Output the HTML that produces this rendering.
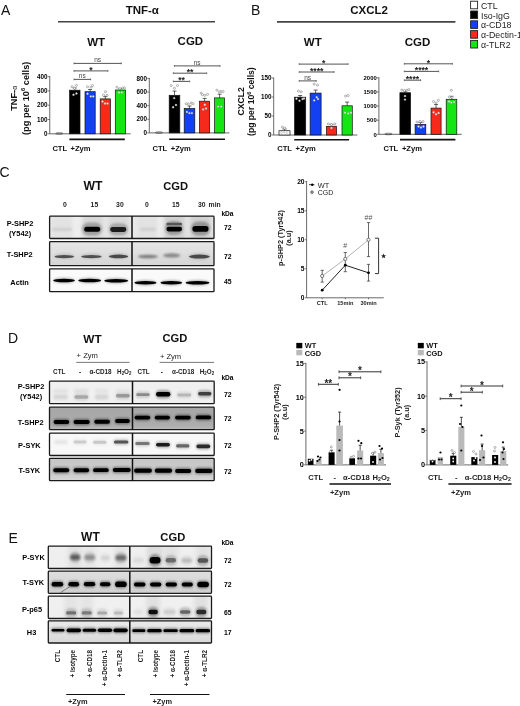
<!DOCTYPE html><html><head><meta charset="utf-8"><style>html,body{margin:0;padding:0;background:#fff;width:520px;height:706px;overflow:hidden}svg{display:block;filter:blur(0.25px);font-family:"Liberation Sans", sans-serif}</style></head><body>
<svg width="520" height="706" viewBox="0 0 520 706">
<defs><filter id="b1" x="-30%" y="-100%" width="160%" height="300%"><feGaussianBlur stdDeviation="0.75"/></filter><filter id="b2" x="-30%" y="-100%" width="160%" height="300%"><feGaussianBlur stdDeviation="1.3"/></filter><filter id="b3" x="-30%" y="-100%" width="160%" height="300%"><feGaussianBlur stdDeviation="0.6"/></filter><filter id="b4" x="-50%" y="-10%" width="200%" height="120%"><feGaussianBlur stdDeviation="2.2"/></filter></defs>
<rect width="520" height="706" fill="#fff"/>
<text x="1.00" y="15.20" font-size="14" font-weight="normal" text-anchor="start" fill="#111">A</text>
<text x="142.30" y="13.80" font-size="11.5" font-weight="bold" text-anchor="middle" fill="#111">TNF-α</text>
<line x1="58.00" y1="21.80" x2="215.00" y2="21.80" stroke="#444" stroke-width="1.6"/>
<text x="96.20" y="45.80" font-size="11.5" font-weight="bold" text-anchor="middle" fill="#111">WT</text>
<text x="190.40" y="45.40" font-size="11.5" font-weight="bold" text-anchor="middle" fill="#111">CGD</text>
<text transform="translate(16.6,98.3) rotate(-90)" font-size="9.2" font-weight="bold" text-anchor="middle" fill="#111">TNF-<tspan font-size="7" font-weight="normal">α</tspan></text>
<text transform="translate(28.6,98.3) rotate(-90)" font-size="9.2" font-weight="bold" text-anchor="middle" fill="#111">(pg per 10<tspan font-size="6" dy="-3.5">6</tspan><tspan dy="3.5"> cells)</tspan></text>
<line x1="49.75" y1="76.10" x2="49.75" y2="133.80" stroke="#444" stroke-width="0.8"/>
<line x1="47.75" y1="133.80" x2="49.75" y2="133.80" stroke="#444" stroke-width="0.7"/>
<text x="47.55" y="136.00" font-size="6.3" font-weight="bold" text-anchor="end" fill="#000">0</text>
<line x1="47.75" y1="119.50" x2="49.75" y2="119.50" stroke="#444" stroke-width="0.7"/>
<text x="47.55" y="121.70" font-size="6.3" font-weight="bold" text-anchor="end" fill="#000">100</text>
<line x1="47.75" y1="105.20" x2="49.75" y2="105.20" stroke="#444" stroke-width="0.7"/>
<text x="47.55" y="107.40" font-size="6.3" font-weight="bold" text-anchor="end" fill="#000">200</text>
<line x1="47.75" y1="90.90" x2="49.75" y2="90.90" stroke="#444" stroke-width="0.7"/>
<text x="47.55" y="93.10" font-size="6.3" font-weight="bold" text-anchor="end" fill="#000">300</text>
<line x1="47.75" y1="76.60" x2="49.75" y2="76.60" stroke="#444" stroke-width="0.7"/>
<text x="47.55" y="78.80" font-size="6.3" font-weight="bold" text-anchor="end" fill="#000">400</text>
<line x1="49.75" y1="133.80" x2="130.60" y2="133.80" stroke="#555" stroke-width="0.9"/>
<ellipse cx="59.3" cy="133.5" rx="3.6" ry="0.8" fill="none" stroke="#333" stroke-width="0.6"/>
<rect x="69.60" y="90.20" width="10.40" height="43.60" fill="#000" stroke="#111" stroke-width="0.7"/>
<line x1="74.80" y1="88.00" x2="74.80" y2="90.20" stroke="#222" stroke-width="0.7"/>
<line x1="72.80" y1="88.00" x2="76.80" y2="88.00" stroke="#222" stroke-width="0.7"/>
<circle cx="72.10" cy="86.70" r="1.05" fill="#fff" stroke="#777" stroke-width="0.55"/>
<circle cx="76.40" cy="85.40" r="1.05" fill="#fff" stroke="#777" stroke-width="0.55"/>
<circle cx="74.50" cy="88.30" r="1.05" fill="#fff" stroke="#777" stroke-width="0.55"/>
<circle cx="73.50" cy="94.80" r="0.95" fill="#fff" stroke="#999" stroke-width="0.4"/>
<circle cx="76.40" cy="93.50" r="0.95" fill="#fff" stroke="#999" stroke-width="0.4"/>
<rect x="85.00" y="91.70" width="10.20" height="42.10" fill="#1240f2" stroke="#111" stroke-width="0.7"/>
<line x1="90.10" y1="89.50" x2="90.10" y2="91.70" stroke="#222" stroke-width="0.7"/>
<line x1="88.10" y1="89.50" x2="92.10" y2="89.50" stroke="#222" stroke-width="0.7"/>
<circle cx="87.50" cy="86.70" r="1.05" fill="#fff" stroke="#777" stroke-width="0.55"/>
<circle cx="91.00" cy="87.20" r="1.05" fill="#fff" stroke="#777" stroke-width="0.55"/>
<circle cx="92.50" cy="85.50" r="1.05" fill="#fff" stroke="#777" stroke-width="0.55"/>
<circle cx="87.50" cy="93.70" r="0.95" fill="#fff" stroke="#999" stroke-width="0.4"/>
<circle cx="90.80" cy="96.40" r="0.95" fill="#fff" stroke="#999" stroke-width="0.4"/>
<circle cx="93.30" cy="96.40" r="0.95" fill="#fff" stroke="#999" stroke-width="0.4"/>
<rect x="100.20" y="98.90" width="10.20" height="34.90" fill="#f52a1c" stroke="#111" stroke-width="0.7"/>
<line x1="105.30" y1="96.60" x2="105.30" y2="98.90" stroke="#222" stroke-width="0.7"/>
<line x1="103.30" y1="96.60" x2="107.30" y2="96.60" stroke="#222" stroke-width="0.7"/>
<circle cx="105.50" cy="91.70" r="1.05" fill="#fff" stroke="#777" stroke-width="0.55"/>
<circle cx="103.50" cy="95.30" r="1.05" fill="#fff" stroke="#777" stroke-width="0.55"/>
<circle cx="107.00" cy="95.30" r="1.05" fill="#fff" stroke="#777" stroke-width="0.55"/>
<circle cx="102.50" cy="101.50" r="0.95" fill="#fff" stroke="#999" stroke-width="0.4"/>
<circle cx="105.00" cy="103.50" r="0.95" fill="#fff" stroke="#999" stroke-width="0.4"/>
<circle cx="107.50" cy="103.50" r="0.95" fill="#fff" stroke="#999" stroke-width="0.4"/>
<rect x="115.30" y="90.00" width="10.30" height="43.80" fill="#14e614" stroke="#111" stroke-width="0.7"/>
<line x1="120.45" y1="88.60" x2="120.45" y2="90.00" stroke="#222" stroke-width="0.7"/>
<line x1="118.45" y1="88.60" x2="122.45" y2="88.60" stroke="#222" stroke-width="0.7"/>
<circle cx="117.00" cy="87.20" r="1.05" fill="#fff" stroke="#777" stroke-width="0.55"/>
<circle cx="120.00" cy="88.60" r="1.05" fill="#fff" stroke="#777" stroke-width="0.55"/>
<circle cx="122.70" cy="88.00" r="1.05" fill="#fff" stroke="#777" stroke-width="0.55"/>
<circle cx="124.50" cy="88.00" r="1.05" fill="#fff" stroke="#777" stroke-width="0.55"/>
<circle cx="119.00" cy="92.50" r="0.95" fill="#fff" stroke="#999" stroke-width="0.4"/>
<circle cx="121.80" cy="92.50" r="0.95" fill="#fff" stroke="#999" stroke-width="0.4"/>
<line x1="69.40" y1="139.40" x2="124.80" y2="139.40" stroke="#111" stroke-width="1.6"/>
<text x="52.40" y="150.60" font-size="7.6" font-weight="bold" text-anchor="start" fill="#111">CTL</text>
<text x="70.50" y="150.60" font-size="7.6" font-weight="bold" text-anchor="start" fill="#111">+Zym</text>
<line x1="74.00" y1="63.40" x2="121.30" y2="63.40" stroke="#555" stroke-width="1.0"/>
<line x1="74.00" y1="62.50" x2="74.00" y2="64.30" stroke="#555" stroke-width="0.8"/>
<line x1="121.30" y1="62.50" x2="121.30" y2="64.30" stroke="#555" stroke-width="0.8"/>
<text x="97.65" y="62.40" font-size="6.5" font-weight="normal" text-anchor="middle" fill="#444">ns</text>
<line x1="74.00" y1="70.90" x2="107.90" y2="70.90" stroke="#555" stroke-width="1.0"/>
<line x1="74.00" y1="70.00" x2="74.00" y2="71.80" stroke="#555" stroke-width="0.8"/>
<line x1="107.90" y1="70.00" x2="107.90" y2="71.80" stroke="#555" stroke-width="0.8"/>
<text x="90.95" y="72.70" font-size="8.6" font-weight="bold" text-anchor="middle" fill="#222">*</text>
<line x1="74.00" y1="79.40" x2="90.60" y2="79.40" stroke="#555" stroke-width="1.0"/>
<line x1="74.00" y1="78.50" x2="74.00" y2="80.30" stroke="#555" stroke-width="0.8"/>
<line x1="90.60" y1="78.50" x2="90.60" y2="80.30" stroke="#555" stroke-width="0.8"/>
<text x="82.30" y="78.40" font-size="6.5" font-weight="normal" text-anchor="middle" fill="#444">ns</text>
<line x1="149.30" y1="77.90" x2="149.30" y2="132.90" stroke="#444" stroke-width="0.8"/>
<line x1="147.30" y1="132.90" x2="149.30" y2="132.90" stroke="#444" stroke-width="0.7"/>
<text x="147.10" y="135.10" font-size="6.3" font-weight="bold" text-anchor="end" fill="#000">0</text>
<line x1="147.30" y1="119.28" x2="149.30" y2="119.28" stroke="#444" stroke-width="0.7"/>
<text x="147.10" y="121.48" font-size="6.3" font-weight="bold" text-anchor="end" fill="#000">200</text>
<line x1="147.30" y1="105.65" x2="149.30" y2="105.65" stroke="#444" stroke-width="0.7"/>
<text x="147.10" y="107.85" font-size="6.3" font-weight="bold" text-anchor="end" fill="#000">400</text>
<line x1="147.30" y1="92.03" x2="149.30" y2="92.03" stroke="#444" stroke-width="0.7"/>
<text x="147.10" y="94.23" font-size="6.3" font-weight="bold" text-anchor="end" fill="#000">600</text>
<line x1="147.30" y1="78.40" x2="149.30" y2="78.40" stroke="#444" stroke-width="0.7"/>
<text x="147.10" y="80.60" font-size="6.3" font-weight="bold" text-anchor="end" fill="#000">800</text>
<line x1="149.30" y1="132.90" x2="229.40" y2="132.90" stroke="#555" stroke-width="0.9"/>
<ellipse cx="159" cy="132.6" rx="3.6" ry="0.8" fill="none" stroke="#333" stroke-width="0.6"/>
<rect x="169.20" y="95.30" width="10.60" height="37.60" fill="#000" stroke="#111" stroke-width="0.7"/>
<line x1="174.50" y1="91.10" x2="174.50" y2="95.30" stroke="#222" stroke-width="0.7"/>
<line x1="172.50" y1="91.10" x2="176.50" y2="91.10" stroke="#222" stroke-width="0.7"/>
<circle cx="171.20" cy="85.60" r="1.05" fill="#fff" stroke="#777" stroke-width="0.55"/>
<circle cx="174.40" cy="88.30" r="1.05" fill="#fff" stroke="#777" stroke-width="0.55"/>
<circle cx="177.50" cy="85.60" r="1.05" fill="#fff" stroke="#777" stroke-width="0.55"/>
<circle cx="174.20" cy="98.10" r="0.95" fill="#fff" stroke="#999" stroke-width="0.4"/>
<circle cx="176.00" cy="105.00" r="0.95" fill="#fff" stroke="#999" stroke-width="0.4"/>
<circle cx="173.10" cy="107.20" r="0.95" fill="#fff" stroke="#999" stroke-width="0.4"/>
<rect x="184.20" y="108.50" width="10.60" height="24.40" fill="#1240f2" stroke="#111" stroke-width="0.7"/>
<line x1="189.50" y1="106.00" x2="189.50" y2="108.50" stroke="#222" stroke-width="0.7"/>
<line x1="187.50" y1="106.00" x2="191.50" y2="106.00" stroke="#222" stroke-width="0.7"/>
<circle cx="186.20" cy="103.70" r="1.05" fill="#fff" stroke="#777" stroke-width="0.55"/>
<circle cx="188.30" cy="104.10" r="1.05" fill="#fff" stroke="#777" stroke-width="0.55"/>
<circle cx="191.20" cy="103.10" r="1.05" fill="#fff" stroke="#777" stroke-width="0.55"/>
<circle cx="193.10" cy="103.70" r="1.05" fill="#fff" stroke="#777" stroke-width="0.55"/>
<circle cx="186.90" cy="111.90" r="0.95" fill="#fff" stroke="#999" stroke-width="0.4"/>
<circle cx="189.40" cy="113.10" r="0.95" fill="#fff" stroke="#999" stroke-width="0.4"/>
<circle cx="191.90" cy="113.10" r="0.95" fill="#fff" stroke="#999" stroke-width="0.4"/>
<rect x="199.60" y="101.20" width="10.00" height="31.70" fill="#f52a1c" stroke="#111" stroke-width="0.7"/>
<line x1="204.60" y1="98.40" x2="204.60" y2="101.20" stroke="#222" stroke-width="0.7"/>
<line x1="202.60" y1="98.40" x2="206.60" y2="98.40" stroke="#222" stroke-width="0.7"/>
<circle cx="201.20" cy="93.10" r="1.05" fill="#fff" stroke="#777" stroke-width="0.55"/>
<circle cx="202.50" cy="94.80" r="1.05" fill="#fff" stroke="#777" stroke-width="0.55"/>
<circle cx="204.80" cy="95.30" r="1.05" fill="#fff" stroke="#777" stroke-width="0.55"/>
<circle cx="207.50" cy="94.40" r="1.05" fill="#fff" stroke="#777" stroke-width="0.55"/>
<circle cx="204.80" cy="104.80" r="0.95" fill="#fff" stroke="#999" stroke-width="0.4"/>
<circle cx="203.10" cy="109.40" r="0.95" fill="#fff" stroke="#999" stroke-width="0.4"/>
<circle cx="206.00" cy="108.50" r="0.95" fill="#fff" stroke="#999" stroke-width="0.4"/>
<rect x="214.60" y="97.90" width="10.00" height="35.00" fill="#14e614" stroke="#111" stroke-width="0.7"/>
<line x1="219.60" y1="94.20" x2="219.60" y2="97.90" stroke="#222" stroke-width="0.7"/>
<line x1="217.60" y1="94.20" x2="221.60" y2="94.20" stroke="#222" stroke-width="0.7"/>
<circle cx="216.90" cy="90.20" r="1.05" fill="#fff" stroke="#777" stroke-width="0.55"/>
<circle cx="219.40" cy="91.90" r="1.05" fill="#fff" stroke="#777" stroke-width="0.55"/>
<circle cx="221.20" cy="91.50" r="1.05" fill="#fff" stroke="#777" stroke-width="0.55"/>
<circle cx="223.10" cy="91.50" r="1.05" fill="#fff" stroke="#777" stroke-width="0.55"/>
<circle cx="218.10" cy="106.60" r="0.95" fill="#fff" stroke="#999" stroke-width="0.4"/>
<circle cx="221.20" cy="106.60" r="0.95" fill="#fff" stroke="#999" stroke-width="0.4"/>
<line x1="169.20" y1="139.20" x2="225.00" y2="139.20" stroke="#111" stroke-width="1.6"/>
<text x="152.50" y="151.20" font-size="7.6" font-weight="bold" text-anchor="start" fill="#111">CTL</text>
<text x="170.80" y="151.20" font-size="7.6" font-weight="bold" text-anchor="start" fill="#111">+Zym</text>
<line x1="174.40" y1="65.90" x2="220.00" y2="65.90" stroke="#555" stroke-width="1.0"/>
<line x1="174.40" y1="65.00" x2="174.40" y2="66.80" stroke="#555" stroke-width="0.8"/>
<line x1="220.00" y1="65.00" x2="220.00" y2="66.80" stroke="#555" stroke-width="0.8"/>
<text x="197.20" y="64.90" font-size="6.5" font-weight="normal" text-anchor="middle" fill="#444">ns</text>
<line x1="173.30" y1="73.20" x2="206.70" y2="73.20" stroke="#555" stroke-width="1.0"/>
<line x1="173.30" y1="72.30" x2="173.30" y2="74.10" stroke="#555" stroke-width="0.8"/>
<line x1="206.70" y1="72.30" x2="206.70" y2="74.10" stroke="#555" stroke-width="0.8"/>
<text x="190.00" y="75.00" font-size="8.6" font-weight="bold" text-anchor="middle" fill="#222">**</text>
<line x1="173.30" y1="81.40" x2="189.70" y2="81.40" stroke="#555" stroke-width="1.0"/>
<line x1="173.30" y1="80.50" x2="173.30" y2="82.30" stroke="#555" stroke-width="0.8"/>
<line x1="189.70" y1="80.50" x2="189.70" y2="82.30" stroke="#555" stroke-width="0.8"/>
<text x="181.50" y="83.20" font-size="8.6" font-weight="bold" text-anchor="middle" fill="#222">**</text>
<text x="251.00" y="15.40" font-size="14" font-weight="normal" text-anchor="start" fill="#111">B</text>
<text x="369.10" y="14.00" font-size="11.5" font-weight="bold" text-anchor="middle" fill="#111">CXCL2</text>
<line x1="277.00" y1="21.90" x2="455.40" y2="21.90" stroke="#444" stroke-width="1.6"/>
<text x="312.80" y="45.70" font-size="11.5" font-weight="bold" text-anchor="middle" fill="#111">WT</text>
<text x="417.60" y="45.70" font-size="11.5" font-weight="bold" text-anchor="middle" fill="#111">CGD</text>
<text transform="translate(243.6,101.4) rotate(-90)" font-size="8.6" font-weight="bold" text-anchor="middle" fill="#111">CXCL2</text>
<text transform="translate(254.4,101.6) rotate(-90)" font-size="8.6" font-weight="bold" text-anchor="middle" fill="#111">(pg per 10<tspan font-size="5.6" dy="-3.3">6</tspan><tspan dy="3.3"> cells)</tspan></text>
<line x1="273.70" y1="77.50" x2="273.70" y2="135.00" stroke="#444" stroke-width="0.8"/>
<line x1="271.70" y1="135.00" x2="273.70" y2="135.00" stroke="#444" stroke-width="0.7"/>
<text x="271.50" y="137.20" font-size="6.3" font-weight="bold" text-anchor="end" fill="#000">0</text>
<line x1="271.70" y1="116.00" x2="273.70" y2="116.00" stroke="#444" stroke-width="0.7"/>
<text x="271.50" y="118.20" font-size="6.3" font-weight="bold" text-anchor="end" fill="#000">50</text>
<line x1="271.70" y1="97.00" x2="273.70" y2="97.00" stroke="#444" stroke-width="0.7"/>
<text x="271.50" y="99.20" font-size="6.3" font-weight="bold" text-anchor="end" fill="#000">100</text>
<line x1="271.70" y1="78.00" x2="273.70" y2="78.00" stroke="#444" stroke-width="0.7"/>
<text x="271.50" y="80.20" font-size="6.3" font-weight="bold" text-anchor="end" fill="#000">150</text>
<line x1="273.70" y1="135.00" x2="357.40" y2="135.00" stroke="#555" stroke-width="0.9"/>
<rect x="279.00" y="130.70" width="11.00" height="4.30" fill="#fff" stroke="#111" stroke-width="0.7"/>
<line x1="284.50" y1="129.00" x2="284.50" y2="130.70" stroke="#222" stroke-width="0.7"/>
<line x1="282.50" y1="129.00" x2="286.50" y2="129.00" stroke="#222" stroke-width="0.7"/>
<circle cx="282.40" cy="127.10" r="1.05" fill="#fff" stroke="#777" stroke-width="0.55"/>
<circle cx="284.80" cy="128.20" r="1.05" fill="#fff" stroke="#777" stroke-width="0.55"/>
<circle cx="281.50" cy="132.50" r="0.95" fill="#fff" stroke="#999" stroke-width="0.4"/>
<circle cx="284.00" cy="132.00" r="0.95" fill="#fff" stroke="#999" stroke-width="0.4"/>
<circle cx="287.00" cy="132.50" r="0.95" fill="#fff" stroke="#999" stroke-width="0.4"/>
<rect x="294.60" y="97.20" width="11.10" height="37.80" fill="#000" stroke="#111" stroke-width="0.7"/>
<line x1="300.15" y1="95.50" x2="300.15" y2="97.20" stroke="#222" stroke-width="0.7"/>
<line x1="298.15" y1="95.50" x2="302.15" y2="95.50" stroke="#222" stroke-width="0.7"/>
<circle cx="298.40" cy="91.10" r="1.05" fill="#fff" stroke="#777" stroke-width="0.55"/>
<circle cx="301.20" cy="91.80" r="1.05" fill="#fff" stroke="#777" stroke-width="0.55"/>
<circle cx="296.50" cy="98.70" r="0.95" fill="#fff" stroke="#999" stroke-width="0.4"/>
<circle cx="299.50" cy="100.80" r="0.95" fill="#fff" stroke="#999" stroke-width="0.4"/>
<circle cx="302.50" cy="99.00" r="0.95" fill="#fff" stroke="#999" stroke-width="0.4"/>
<circle cx="304.00" cy="98.50" r="0.95" fill="#fff" stroke="#999" stroke-width="0.4"/>
<rect x="310.10" y="93.10" width="11.00" height="41.90" fill="#1240f2" stroke="#111" stroke-width="0.7"/>
<line x1="315.60" y1="90.10" x2="315.60" y2="93.10" stroke="#222" stroke-width="0.7"/>
<line x1="313.60" y1="90.10" x2="317.60" y2="90.10" stroke="#222" stroke-width="0.7"/>
<circle cx="314.20" cy="84.10" r="1.05" fill="#fff" stroke="#777" stroke-width="0.55"/>
<circle cx="317.50" cy="85.20" r="1.05" fill="#fff" stroke="#777" stroke-width="0.55"/>
<circle cx="316.70" cy="97.20" r="0.95" fill="#fff" stroke="#999" stroke-width="0.4"/>
<circle cx="314.20" cy="100.40" r="0.95" fill="#fff" stroke="#999" stroke-width="0.4"/>
<circle cx="318.00" cy="99.00" r="0.95" fill="#fff" stroke="#999" stroke-width="0.4"/>
<rect x="326.50" y="126.30" width="10.10" height="8.70" fill="#f52a1c" stroke="#111" stroke-width="0.7"/>
<line x1="331.55" y1="124.30" x2="331.55" y2="126.30" stroke="#222" stroke-width="0.7"/>
<line x1="329.55" y1="124.30" x2="333.55" y2="124.30" stroke="#222" stroke-width="0.7"/>
<circle cx="328.40" cy="124.00" r="1.05" fill="#fff" stroke="#777" stroke-width="0.55"/>
<circle cx="331.50" cy="124.60" r="1.05" fill="#fff" stroke="#777" stroke-width="0.55"/>
<circle cx="334.80" cy="124.00" r="1.05" fill="#fff" stroke="#777" stroke-width="0.55"/>
<circle cx="331.50" cy="128.00" r="0.95" fill="#fff" stroke="#999" stroke-width="0.4"/>
<rect x="342.00" y="105.80" width="10.30" height="29.20" fill="#14e614" stroke="#111" stroke-width="0.7"/>
<line x1="347.15" y1="102.10" x2="347.15" y2="105.80" stroke="#222" stroke-width="0.7"/>
<line x1="345.15" y1="102.10" x2="349.15" y2="102.10" stroke="#222" stroke-width="0.7"/>
<circle cx="345.60" cy="96.00" r="1.05" fill="#fff" stroke="#777" stroke-width="0.55"/>
<circle cx="348.20" cy="95.50" r="1.05" fill="#fff" stroke="#777" stroke-width="0.55"/>
<circle cx="345.00" cy="112.70" r="0.95" fill="#fff" stroke="#999" stroke-width="0.4"/>
<circle cx="348.20" cy="113.40" r="0.95" fill="#fff" stroke="#999" stroke-width="0.4"/>
<circle cx="351.00" cy="112.70" r="0.95" fill="#fff" stroke="#999" stroke-width="0.4"/>
<line x1="294.20" y1="139.70" x2="349.10" y2="139.70" stroke="#111" stroke-width="1.6"/>
<text x="277.20" y="151.30" font-size="7.6" font-weight="bold" text-anchor="start" fill="#111">CTL</text>
<text x="295.60" y="151.30" font-size="7.6" font-weight="bold" text-anchor="start" fill="#111">+Zym</text>
<line x1="299.20" y1="64.10" x2="348.00" y2="64.10" stroke="#555" stroke-width="1.0"/>
<line x1="299.20" y1="63.20" x2="299.20" y2="65.00" stroke="#555" stroke-width="0.8"/>
<line x1="348.00" y1="63.20" x2="348.00" y2="65.00" stroke="#555" stroke-width="0.8"/>
<text x="323.60" y="65.90" font-size="8.6" font-weight="bold" text-anchor="middle" fill="#222">*</text>
<line x1="299.20" y1="72.00" x2="334.10" y2="72.00" stroke="#555" stroke-width="1.0"/>
<line x1="299.20" y1="71.10" x2="299.20" y2="72.90" stroke="#555" stroke-width="0.8"/>
<line x1="334.10" y1="71.10" x2="334.10" y2="72.90" stroke="#555" stroke-width="0.8"/>
<text x="316.65" y="73.80" font-size="8.6" font-weight="bold" text-anchor="middle" fill="#222">****</text>
<line x1="299.20" y1="80.90" x2="316.20" y2="80.90" stroke="#555" stroke-width="1.0"/>
<line x1="299.20" y1="80.00" x2="299.20" y2="81.80" stroke="#555" stroke-width="0.8"/>
<line x1="316.20" y1="80.00" x2="316.20" y2="81.80" stroke="#555" stroke-width="0.8"/>
<text x="307.70" y="79.90" font-size="6.5" font-weight="normal" text-anchor="middle" fill="#444">ns</text>
<line x1="378.90" y1="77.30" x2="378.90" y2="134.30" stroke="#444" stroke-width="0.8"/>
<line x1="376.90" y1="134.30" x2="378.90" y2="134.30" stroke="#444" stroke-width="0.7"/>
<text x="376.70" y="136.50" font-size="5.9" font-weight="bold" text-anchor="end" fill="#000">0</text>
<line x1="376.90" y1="120.18" x2="378.90" y2="120.18" stroke="#444" stroke-width="0.7"/>
<text x="376.70" y="122.38" font-size="5.9" font-weight="bold" text-anchor="end" fill="#000">500</text>
<line x1="376.90" y1="106.05" x2="378.90" y2="106.05" stroke="#444" stroke-width="0.7"/>
<text x="376.70" y="108.25" font-size="5.9" font-weight="bold" text-anchor="end" fill="#000">1000</text>
<line x1="376.90" y1="91.92" x2="378.90" y2="91.92" stroke="#444" stroke-width="0.7"/>
<text x="376.70" y="94.12" font-size="5.9" font-weight="bold" text-anchor="end" fill="#000">1500</text>
<line x1="376.90" y1="77.80" x2="378.90" y2="77.80" stroke="#444" stroke-width="0.7"/>
<text x="376.70" y="80.00" font-size="5.9" font-weight="bold" text-anchor="end" fill="#000">2000</text>
<line x1="378.90" y1="134.30" x2="461.70" y2="134.30" stroke="#555" stroke-width="0.9"/>
<ellipse cx="388.5" cy="134.0" rx="3.6" ry="0.8" fill="none" stroke="#333" stroke-width="0.6"/>
<rect x="399.90" y="92.70" width="10.70" height="41.60" fill="#000" stroke="#111" stroke-width="0.7"/>
<line x1="405.25" y1="91.00" x2="405.25" y2="92.70" stroke="#222" stroke-width="0.7"/>
<line x1="403.25" y1="91.00" x2="407.25" y2="91.00" stroke="#222" stroke-width="0.7"/>
<circle cx="401.80" cy="90.00" r="1.05" fill="#fff" stroke="#777" stroke-width="0.55"/>
<circle cx="404.50" cy="90.50" r="1.05" fill="#fff" stroke="#777" stroke-width="0.55"/>
<circle cx="407.00" cy="90.20" r="1.05" fill="#fff" stroke="#777" stroke-width="0.55"/>
<circle cx="409.00" cy="89.60" r="1.05" fill="#fff" stroke="#777" stroke-width="0.55"/>
<circle cx="405.00" cy="96.00" r="0.95" fill="#fff" stroke="#999" stroke-width="0.4"/>
<circle cx="405.00" cy="99.60" r="0.95" fill="#fff" stroke="#999" stroke-width="0.4"/>
<rect x="415.10" y="124.50" width="10.70" height="9.80" fill="#1240f2" stroke="#111" stroke-width="0.7"/>
<line x1="420.45" y1="122.50" x2="420.45" y2="124.50" stroke="#222" stroke-width="0.7"/>
<line x1="418.45" y1="122.50" x2="422.45" y2="122.50" stroke="#222" stroke-width="0.7"/>
<circle cx="417.00" cy="122.00" r="1.05" fill="#fff" stroke="#777" stroke-width="0.55"/>
<circle cx="420.00" cy="121.50" r="1.05" fill="#fff" stroke="#777" stroke-width="0.55"/>
<circle cx="423.00" cy="121.50" r="1.05" fill="#fff" stroke="#777" stroke-width="0.55"/>
<circle cx="418.50" cy="126.50" r="0.95" fill="#fff" stroke="#999" stroke-width="0.4"/>
<circle cx="421.00" cy="127.50" r="0.95" fill="#fff" stroke="#999" stroke-width="0.4"/>
<circle cx="423.50" cy="126.50" r="0.95" fill="#fff" stroke="#999" stroke-width="0.4"/>
<rect x="431.00" y="108.10" width="10.10" height="26.20" fill="#f52a1c" stroke="#111" stroke-width="0.7"/>
<line x1="436.05" y1="104.50" x2="436.05" y2="108.10" stroke="#222" stroke-width="0.7"/>
<line x1="434.05" y1="104.50" x2="438.05" y2="104.50" stroke="#222" stroke-width="0.7"/>
<circle cx="433.50" cy="101.50" r="1.05" fill="#fff" stroke="#777" stroke-width="0.55"/>
<circle cx="436.00" cy="103.00" r="1.05" fill="#fff" stroke="#777" stroke-width="0.55"/>
<circle cx="438.30" cy="100.40" r="1.05" fill="#fff" stroke="#777" stroke-width="0.55"/>
<circle cx="433.60" cy="112.20" r="0.95" fill="#fff" stroke="#999" stroke-width="0.4"/>
<circle cx="436.00" cy="114.30" r="0.95" fill="#fff" stroke="#999" stroke-width="0.4"/>
<circle cx="438.60" cy="113.00" r="0.95" fill="#fff" stroke="#999" stroke-width="0.4"/>
<rect x="446.20" y="99.30" width="10.60" height="35.00" fill="#14e614" stroke="#111" stroke-width="0.7"/>
<line x1="451.50" y1="96.30" x2="451.50" y2="99.30" stroke="#222" stroke-width="0.7"/>
<line x1="449.50" y1="96.30" x2="453.50" y2="96.30" stroke="#222" stroke-width="0.7"/>
<circle cx="451.30" cy="90.30" r="1.05" fill="#fff" stroke="#777" stroke-width="0.55"/>
<circle cx="449.50" cy="97.00" r="1.05" fill="#fff" stroke="#777" stroke-width="0.55"/>
<circle cx="452.00" cy="97.50" r="1.05" fill="#fff" stroke="#777" stroke-width="0.55"/>
<circle cx="449.00" cy="101.50" r="0.95" fill="#fff" stroke="#999" stroke-width="0.4"/>
<circle cx="451.30" cy="102.50" r="0.95" fill="#fff" stroke="#999" stroke-width="0.4"/>
<circle cx="454.00" cy="102.00" r="0.95" fill="#fff" stroke="#999" stroke-width="0.4"/>
<line x1="400.00" y1="139.60" x2="455.40" y2="139.60" stroke="#111" stroke-width="1.6"/>
<text x="383.50" y="151.30" font-size="7.6" font-weight="bold" text-anchor="start" fill="#111">CTL</text>
<text x="401.90" y="151.30" font-size="7.6" font-weight="bold" text-anchor="start" fill="#111">+Zym</text>
<line x1="404.30" y1="63.80" x2="452.40" y2="63.80" stroke="#555" stroke-width="1.0"/>
<line x1="404.30" y1="62.90" x2="404.30" y2="64.70" stroke="#555" stroke-width="0.8"/>
<line x1="452.40" y1="62.90" x2="452.40" y2="64.70" stroke="#555" stroke-width="0.8"/>
<text x="428.35" y="65.60" font-size="8.6" font-weight="bold" text-anchor="middle" fill="#222">*</text>
<line x1="404.30" y1="71.40" x2="438.70" y2="71.40" stroke="#555" stroke-width="1.0"/>
<line x1="404.30" y1="70.50" x2="404.30" y2="72.30" stroke="#555" stroke-width="0.8"/>
<line x1="438.70" y1="70.50" x2="438.70" y2="72.30" stroke="#555" stroke-width="0.8"/>
<text x="421.50" y="73.20" font-size="8.6" font-weight="bold" text-anchor="middle" fill="#222">****</text>
<line x1="404.30" y1="80.20" x2="420.60" y2="80.20" stroke="#555" stroke-width="1.0"/>
<line x1="404.30" y1="79.30" x2="404.30" y2="81.10" stroke="#555" stroke-width="0.8"/>
<line x1="420.60" y1="79.30" x2="420.60" y2="81.10" stroke="#555" stroke-width="0.8"/>
<text x="412.45" y="82.00" font-size="8.6" font-weight="bold" text-anchor="middle" fill="#222">****</text>
<rect x="470.60" y="1.20" width="7.00" height="7.60" fill="#fff" stroke="#222" stroke-width="0.9"/>
<text x="481.00" y="8.70" font-size="8.8" font-weight="normal" text-anchor="start" fill="#222">CTL</text>
<rect x="470.60" y="11.00" width="7.00" height="7.60" fill="#000" stroke="#222" stroke-width="0.9"/>
<text x="481.00" y="18.50" font-size="8.8" font-weight="normal" text-anchor="start" fill="#222">Iso-IgG</text>
<rect x="470.60" y="20.80" width="7.00" height="7.60" fill="#1240f2" stroke="#222" stroke-width="0.9"/>
<text x="481.00" y="28.30" font-size="8.8" font-weight="normal" text-anchor="start" fill="#222">α-CD18</text>
<rect x="470.60" y="30.60" width="7.00" height="7.60" fill="#f52a1c" stroke="#222" stroke-width="0.9"/>
<text x="481.00" y="38.10" font-size="8.8" font-weight="normal" text-anchor="start" fill="#222">α-Dectin-1</text>
<rect x="470.60" y="40.40" width="7.00" height="7.60" fill="#14e614" stroke="#222" stroke-width="0.9"/>
<text x="481.00" y="47.90" font-size="8.8" font-weight="normal" text-anchor="start" fill="#222">α-TLR2</text>
<text x="-0.60" y="177.40" font-size="14" font-weight="normal" text-anchor="start" fill="#111">C</text>
<text x="93.10" y="190.30" font-size="12.2" font-weight="bold" text-anchor="middle" fill="#111">WT</text>
<text x="175.60" y="190.10" font-size="11.2" font-weight="bold" text-anchor="middle" fill="#111">CGD</text>
<text x="64.90" y="206.90" font-size="6.8" font-weight="bold" text-anchor="middle" fill="#222">0</text>
<text x="94.40" y="206.90" font-size="6.8" font-weight="bold" text-anchor="middle" fill="#222">15</text>
<text x="119.90" y="206.90" font-size="6.8" font-weight="bold" text-anchor="middle" fill="#222">30</text>
<text x="147.00" y="206.90" font-size="6.8" font-weight="bold" text-anchor="middle" fill="#222">0</text>
<text x="175.80" y="206.90" font-size="6.8" font-weight="bold" text-anchor="middle" fill="#222">15</text>
<text x="201.80" y="206.90" font-size="6.8" font-weight="bold" text-anchor="middle" fill="#222">30</text>
<text x="208.60" y="206.90" font-size="6.8" font-weight="bold" text-anchor="start" fill="#222">min</text>
<text x="221.40" y="215.60" font-size="6.6" font-weight="bold" text-anchor="start" fill="#000">kDa</text>
<text x="224.00" y="230.30" font-size="6.8" font-weight="bold" text-anchor="start" fill="#000">72</text>
<text x="224.00" y="258.70" font-size="6.8" font-weight="bold" text-anchor="start" fill="#000">72</text>
<text x="224.00" y="284.20" font-size="6.8" font-weight="bold" text-anchor="start" fill="#000">45</text>
<text x="20.00" y="225.90" font-size="7.4" font-weight="bold" text-anchor="middle" fill="#000">P-SHP2</text>
<text x="20.00" y="235.50" font-size="7.4" font-weight="bold" text-anchor="middle" fill="#000">(Y542)</text>
<text x="19.80" y="256.90" font-size="7.4" font-weight="bold" text-anchor="middle" fill="#000">T-SHP2</text>
<text x="19.60" y="284.90" font-size="7.4" font-weight="bold" text-anchor="middle" fill="#000">Actin</text>
<clipPath id="c1"><rect x="49.6" y="216.1" width="164.40" height="22.40"/></clipPath>
<g clip-path="url(#c1)">
<rect x="49.60" y="216.10" width="164.40" height="22.40" fill="#e8e8e8"/>
<rect x="52.00" y="213.10" width="21.00" height="28.40" fill="#e2e2e2" opacity="1" filter="url(#b4)"/>
<rect x="82.00" y="213.10" width="21.00" height="28.40" fill="#d8d8d8" opacity="1" filter="url(#b4)"/>
<rect x="108.00" y="213.10" width="21.00" height="28.40" fill="#dadada" opacity="1" filter="url(#b4)"/>
<rect x="138.00" y="213.10" width="20.00" height="28.40" fill="#e2e2e2" opacity="1" filter="url(#b4)"/>
<rect x="163.00" y="213.10" width="22.00" height="28.40" fill="#d2d2d2" opacity="1" filter="url(#b4)"/>
<rect x="190.00" y="213.10" width="21.00" height="28.40" fill="#d0d0d0" opacity="1" filter="url(#b4)"/>
<rect x="73.00" y="213.10" width="8.00" height="28.40" fill="#eeeeee" opacity="1" filter="url(#b4)"/>
<rect x="158.00" y="213.10" width="5.00" height="28.40" fill="#eeeeee" opacity="1" filter="url(#b4)"/>
<rect x="52.00" y="228.00" width="20.00" height="3.00" rx="1.50" fill="#cfcfcf" filter="url(#b2)"/>
<rect x="82.00" y="222.50" width="20.00" height="13.00" rx="6.50" fill="#a0a0a0" filter="url(#b2)"/>
<rect x="109.00" y="223.20" width="19.00" height="12.00" rx="6.00" fill="#a8a8a8" filter="url(#b2)"/>
<rect x="165.00" y="221.00" width="18.00" height="14.00" rx="7.00" fill="#9a9a9a" filter="url(#b2)"/>
<rect x="191.00" y="221.50" width="19.00" height="14.00" rx="7.00" fill="#949494" filter="url(#b2)"/>
<rect x="84.20" y="226.80" width="16.00" height="5.00" rx="2.50" fill="#050505" filter="url(#b1)"/>
<rect x="110.20" y="227.10" width="16.10" height="4.80" rx="2.40" fill="#1a1a1a" filter="url(#b1)"/>
<rect x="140.00" y="227.80" width="15.70" height="3.00" rx="1.50" fill="#cdcdcd" filter="url(#b2)"/>
<rect x="166.40" y="222.70" width="15.60" height="2.60" rx="1.30" fill="#555" filter="url(#b1)"/>
<rect x="166.40" y="226.80" width="15.60" height="4.60" rx="2.30" fill="#050505" filter="url(#b1)"/>
<rect x="192.40" y="226.10" width="16.10" height="5.60" rx="2.80" fill="#000" filter="url(#b1)"/>
</g>
<rect x="49.6" y="216.1" width="164.40" height="22.40" fill="none" stroke="#1a1a1a" stroke-width="1.3" rx="0.8"/>
<line x1="132.00" y1="216.10" x2="132.00" y2="238.50" stroke="#111" stroke-width="1.5"/>
<clipPath id="c2"><rect x="49.6" y="241.7" width="164.40" height="24.00"/></clipPath>
<g clip-path="url(#c2)">
<linearGradient id="g2" x1="0" y1="0" x2="0" y2="1"><stop offset="0" stop-color="#e6e6e6"/><stop offset="0.5" stop-color="#dedede"/><stop offset="1" stop-color="#d4d4d4"/></linearGradient>
<rect x="49.60" y="241.70" width="164.40" height="24.00" fill="url(#g2)"/>
<ellipse cx="64.30" cy="256.30" rx="10.30" ry="3.00" fill="#c4c4c4" filter="url(#b2)"/>
<ellipse cx="91.45" cy="256.30" rx="10.75" ry="3.00" fill="#c4c4c4" filter="url(#b2)"/>
<ellipse cx="118.55" cy="256.10" rx="10.15" ry="3.00" fill="#c0c0c0" filter="url(#b2)"/>
<ellipse cx="199.35" cy="256.60" rx="10.95" ry="3.25" fill="#bcbcbc" filter="url(#b2)"/>
<ellipse cx="64.30" cy="256.60" rx="9.80" ry="1.70" fill="#505050" filter="url(#b1)"/>
<ellipse cx="91.45" cy="256.60" rx="10.25" ry="1.70" fill="#505050" filter="url(#b1)"/>
<ellipse cx="118.55" cy="256.40" rx="9.65" ry="1.80" fill="#484848" filter="url(#b1)"/>
<ellipse cx="147.90" cy="256.50" rx="10.00" ry="1.70" fill="#7a7a7a" filter="url(#b2)"/>
<ellipse cx="171.70" cy="255.40" rx="8.70" ry="2.10" fill="#888" filter="url(#b2)"/>
<ellipse cx="199.35" cy="256.60" rx="10.45" ry="2.00" fill="#484848" filter="url(#b1)"/>
</g>
<rect x="49.6" y="241.7" width="164.40" height="24.00" fill="none" stroke="#1a1a1a" stroke-width="1.3" rx="0.8"/>
<line x1="132.00" y1="241.70" x2="132.00" y2="265.70" stroke="#111" stroke-width="1.5"/>
<clipPath id="c3"><rect x="49.6" y="268.8" width="164.40" height="22.90"/></clipPath>
<g clip-path="url(#c3)">
<rect x="49.60" y="268.80" width="164.40" height="22.90" fill="#fafafa"/>
<ellipse cx="64.05" cy="280.50" rx="10.85" ry="2.75" fill="#b0b0b0" filter="url(#b2)"/>
<ellipse cx="89.70" cy="280.50" rx="11.50" ry="2.75" fill="#b0b0b0" filter="url(#b2)"/>
<ellipse cx="116.20" cy="280.70" rx="12.00" ry="2.75" fill="#b0b0b0" filter="url(#b2)"/>
<ellipse cx="145.45" cy="282.80" rx="11.05" ry="2.75" fill="#b0b0b0" filter="url(#b2)"/>
<ellipse cx="171.30" cy="282.80" rx="10.90" ry="2.75" fill="#b0b0b0" filter="url(#b2)"/>
<ellipse cx="197.50" cy="282.80" rx="12.00" ry="2.75" fill="#b0b0b0" filter="url(#b2)"/>
<ellipse cx="64.05" cy="280.50" rx="10.85" ry="1.70" fill="#000" filter="url(#b1)"/>
<ellipse cx="89.70" cy="280.50" rx="11.50" ry="1.70" fill="#000" filter="url(#b1)"/>
<ellipse cx="116.20" cy="280.70" rx="12.00" ry="1.80" fill="#000" filter="url(#b1)"/>
<ellipse cx="145.45" cy="282.80" rx="11.05" ry="1.70" fill="#000" filter="url(#b1)"/>
<ellipse cx="171.30" cy="282.80" rx="10.90" ry="1.70" fill="#000" filter="url(#b1)"/>
<ellipse cx="197.50" cy="282.80" rx="12.00" ry="1.80" fill="#000" filter="url(#b1)"/>
</g>
<rect x="49.6" y="268.8" width="164.40" height="22.90" fill="none" stroke="#1a1a1a" stroke-width="1.3" rx="0.8"/>
<line x1="132.00" y1="268.80" x2="132.00" y2="291.70" stroke="#111" stroke-width="1.5"/>
<line x1="306.60" y1="181.20" x2="306.60" y2="297.80" stroke="#444" stroke-width="0.8"/>
<line x1="306.60" y1="297.80" x2="383.80" y2="297.80" stroke="#444" stroke-width="0.8"/>
<line x1="305.00" y1="297.80" x2="306.60" y2="297.80" stroke="#444" stroke-width="0.7"/>
<text x="304.60" y="300.10" font-size="6.7" font-weight="bold" text-anchor="end" fill="#000">0</text>
<line x1="305.00" y1="268.77" x2="306.60" y2="268.77" stroke="#444" stroke-width="0.7"/>
<text x="304.60" y="271.07" font-size="6.7" font-weight="bold" text-anchor="end" fill="#000">5</text>
<line x1="305.00" y1="239.75" x2="306.60" y2="239.75" stroke="#444" stroke-width="0.7"/>
<text x="304.60" y="242.05" font-size="6.7" font-weight="bold" text-anchor="end" fill="#000">10</text>
<line x1="305.00" y1="210.72" x2="306.60" y2="210.72" stroke="#444" stroke-width="0.7"/>
<text x="304.60" y="213.03" font-size="6.7" font-weight="bold" text-anchor="end" fill="#000">15</text>
<line x1="305.00" y1="181.70" x2="306.60" y2="181.70" stroke="#444" stroke-width="0.7"/>
<text x="304.60" y="184.00" font-size="6.7" font-weight="bold" text-anchor="end" fill="#000">20</text>
<line x1="322.20" y1="297.80" x2="322.20" y2="299.30" stroke="#444" stroke-width="0.7"/>
<text x="322.20" y="305.30" font-size="5.6" font-weight="bold" text-anchor="middle" fill="#222">CTL</text>
<line x1="345.30" y1="297.80" x2="345.30" y2="299.30" stroke="#444" stroke-width="0.7"/>
<text x="345.30" y="305.30" font-size="5.6" font-weight="bold" text-anchor="middle" fill="#222">15min</text>
<line x1="368.50" y1="297.80" x2="368.50" y2="299.30" stroke="#444" stroke-width="0.7"/>
<text x="368.50" y="305.30" font-size="5.6" font-weight="bold" text-anchor="middle" fill="#222">30min</text>
<line x1="322.20" y1="270.30" x2="322.20" y2="282.10" stroke="#444" stroke-width="0.8"/>
<line x1="320.60" y1="270.30" x2="323.80" y2="270.30" stroke="#444" stroke-width="0.8"/>
<line x1="320.60" y1="282.10" x2="323.80" y2="282.10" stroke="#444" stroke-width="0.8"/>
<line x1="345.30" y1="252.50" x2="345.30" y2="271.70" stroke="#444" stroke-width="0.8"/>
<line x1="343.70" y1="252.50" x2="346.90" y2="252.50" stroke="#444" stroke-width="0.8"/>
<line x1="343.70" y1="271.70" x2="346.90" y2="271.70" stroke="#444" stroke-width="0.8"/>
<line x1="368.50" y1="222.60" x2="368.50" y2="256.60" stroke="#444" stroke-width="0.8"/>
<line x1="366.90" y1="222.60" x2="370.10" y2="222.60" stroke="#444" stroke-width="0.8"/>
<line x1="366.90" y1="256.60" x2="370.10" y2="256.60" stroke="#444" stroke-width="0.8"/>
<line x1="368.50" y1="264.40" x2="368.50" y2="281.10" stroke="#444" stroke-width="0.8"/>
<line x1="366.90" y1="264.40" x2="370.10" y2="264.40" stroke="#444" stroke-width="0.8"/>
<line x1="366.90" y1="281.10" x2="370.10" y2="281.10" stroke="#444" stroke-width="0.8"/>
<polyline points="322.2,276 345.3,258.9 368.5,239.8" fill="none" stroke="#aaa" stroke-width="0.9"/>
<polyline points="322.2,290.2 345.3,265.2 368.5,272.8" fill="none" stroke="#222" stroke-width="1.0"/>
<circle cx="322.20" cy="276.00" r="1.6" fill="#fff" stroke="#555" stroke-width="0.8"/>
<circle cx="345.30" cy="258.90" r="1.6" fill="#fff" stroke="#555" stroke-width="0.8"/>
<circle cx="368.50" cy="239.80" r="1.6" fill="#fff" stroke="#555" stroke-width="0.8"/>
<circle cx="322.20" cy="290.20" r="1.4" fill="#000"/>
<circle cx="345.30" cy="265.20" r="1.4" fill="#000"/>
<circle cx="368.50" cy="272.80" r="1.4" fill="#000"/>
<text x="345.30" y="248.00" font-size="7.0" font-weight="normal" text-anchor="middle" fill="#555">#</text>
<text x="368.50" y="220.00" font-size="7.0" font-weight="normal" text-anchor="middle" fill="#555">##</text>
<polyline points="374.9,238.2 378.6,238.2 378.6,273.6 374.9,273.6" fill="none" stroke="#333" stroke-width="1.0"/>
<polygon points="383.6,253.6 384.3,255.3 386.1,255.4 384.7,256.5 385.2,258.3 383.6,257.3 382.0,258.3 382.5,256.5 381.1,255.4 382.9,255.3" fill="#222"/>
<line x1="309.00" y1="184.70" x2="314.40" y2="184.70" stroke="#222" stroke-width="0.9"/>
<circle cx="312.20" cy="184.70" r="1.2" fill="#000"/>
<circle cx="312.00" cy="192.20" r="1.4" fill="#999" stroke="#555" stroke-width="0.6"/>
<text x="317.80" y="187.50" font-size="7.4" font-weight="normal" text-anchor="start" fill="#222">WT</text>
<text x="317.80" y="194.60" font-size="7.0" font-weight="normal" text-anchor="start" fill="#222">CGD</text>
<text transform="translate(283.2,238) rotate(-90)" font-size="7.3" font-weight="bold" text-anchor="middle" fill="#222">p-SHP2 (Tyr542)</text>
<text transform="translate(290.6,238) rotate(-90)" font-size="7.3" font-weight="bold" text-anchor="middle" fill="#222">(a.u)</text>
<text x="8.00" y="342.80" font-size="14" font-weight="normal" text-anchor="start" fill="#111">D</text>
<text x="92.50" y="342.60" font-size="11.8" font-weight="bold" text-anchor="middle" fill="#111">WT</text>
<text x="174.90" y="342.10" font-size="11.2" font-weight="bold" text-anchor="middle" fill="#111">CGD</text>
<text x="76.60" y="358.40" font-size="7.6" font-weight="normal" text-anchor="start" fill="#222">+ Zym</text>
<text x="159.90" y="358.60" font-size="7.6" font-weight="normal" text-anchor="start" fill="#222">+ Zym</text>
<line x1="76.20" y1="362.40" x2="129.60" y2="362.40" stroke="#555" stroke-width="0.8"/>
<line x1="159.60" y1="362.40" x2="214.00" y2="362.40" stroke="#555" stroke-width="0.8"/>
<text x="53.10" y="373.70" font-size="6.3" font-weight="bold" text-anchor="start" fill="#222">CTL</text>
<text x="80.00" y="373.70" font-size="6.3" font-weight="bold" text-anchor="middle" fill="#222">-</text>
<text x="100.50" y="373.70" font-size="6.3" font-weight="bold" text-anchor="middle" fill="#222">α-CD18</text>
<text x="137.40" y="373.70" font-size="6.3" font-weight="bold" text-anchor="start" fill="#222">CTL</text>
<text x="161.77" y="373.70" font-size="6.3" font-weight="bold" text-anchor="middle" fill="#222">-</text>
<text x="183.11" y="373.70" font-size="6.3" font-weight="bold" text-anchor="middle" fill="#222">α-CD18</text>
<text x="117.10" y="373.70" font-size="6.3" font-weight="bold" fill="#222">H<tspan font-size="4.41" dy="1.2">2</tspan><tspan dy="-1.2">O</tspan><tspan font-size="4.41" dy="1.2">2</tspan></text>
<text x="199.80" y="373.70" font-size="6.3" font-weight="bold" fill="#222">H<tspan font-size="4.41" dy="1.2">2</tspan><tspan dy="-1.2">O</tspan><tspan font-size="4.41" dy="1.2">2</tspan></text>
<text x="221.40" y="380.30" font-size="6.6" font-weight="bold" text-anchor="start" fill="#000">kDa</text>
<text x="224.00" y="396.50" font-size="6.8" font-weight="bold" text-anchor="start" fill="#000">72</text>
<text x="224.00" y="421.00" font-size="6.8" font-weight="bold" text-anchor="start" fill="#000">72</text>
<text x="224.00" y="448.20" font-size="6.8" font-weight="bold" text-anchor="start" fill="#000">72</text>
<text x="224.00" y="474.00" font-size="6.8" font-weight="bold" text-anchor="start" fill="#000">72</text>
<text x="31.00" y="388.70" font-size="7.4" font-weight="bold" text-anchor="middle" fill="#000">P-SHP2</text>
<text x="31.00" y="398.60" font-size="7.4" font-weight="bold" text-anchor="middle" fill="#000">(Y542)</text>
<text x="30.70" y="424.60" font-size="7.4" font-weight="bold" text-anchor="middle" fill="#000">T-SHP2</text>
<text x="29.40" y="448.20" font-size="7.4" font-weight="bold" text-anchor="middle" fill="#000">P-SYK</text>
<text x="29.30" y="472.90" font-size="7.4" font-weight="bold" text-anchor="middle" fill="#000">T-SYK</text>
<clipPath id="c4"><rect x="49.5" y="381.2" width="164.70" height="22.50"/></clipPath>
<g clip-path="url(#c4)">
<rect x="49.50" y="381.20" width="164.70" height="22.50" fill="#f0f0f0"/>
<rect x="53.20" y="388.00" width="14.80" height="6.00" rx="3.00" fill="#dedede" opacity="0.35" filter="url(#b2)"/>
<rect x="53.20" y="393.50" width="14.80" height="7.00" rx="3.50" fill="#d2d2d2" opacity="0.35" filter="url(#b2)"/>
<rect x="73.90" y="388.00" width="14.90" height="6.00" rx="3.00" fill="#dadada" opacity="0.35" filter="url(#b2)"/>
<rect x="73.90" y="393.30" width="14.90" height="7.40" rx="3.70" fill="#a8a8a8" opacity="0.35" filter="url(#b2)"/>
<rect x="94.70" y="388.00" width="14.00" height="6.00" rx="3.00" fill="#e0e0e0" opacity="0.35" filter="url(#b2)"/>
<rect x="94.70" y="393.50" width="14.00" height="7.00" rx="3.50" fill="#d0d0d0" opacity="0.35" filter="url(#b2)"/>
<rect x="115.50" y="388.00" width="14.80" height="6.00" rx="3.00" fill="#e4e4e4" opacity="0.35" filter="url(#b2)"/>
<rect x="115.50" y="392.10" width="14.80" height="7.40" rx="3.70" fill="#9a9a9a" opacity="0.35" filter="url(#b2)"/>
<rect x="135.80" y="391.30" width="14.30" height="6.80" rx="3.40" fill="#8a8a8a" opacity="0.35" filter="url(#b2)"/>
<rect x="155.50" y="390.00" width="15.40" height="8.40" rx="4.20" fill="#050505" opacity="0.35" filter="url(#b2)"/>
<rect x="176.80" y="391.60" width="14.90" height="6.80" rx="3.40" fill="#b8b8b8" opacity="0.35" filter="url(#b2)"/>
<rect x="197.60" y="390.10" width="14.30" height="7.40" rx="3.70" fill="#404040" opacity="0.35" filter="url(#b2)"/>
<rect x="53.70" y="390.00" width="13.80" height="2.00" rx="1.00" fill="#dedede" filter="url(#b2)"/>
<rect x="53.70" y="395.50" width="13.80" height="3.00" rx="1.50" fill="#d2d2d2" filter="url(#b2)"/>
<rect x="74.40" y="390.00" width="13.90" height="2.00" rx="1.00" fill="#dadada" filter="url(#b2)"/>
<rect x="74.40" y="395.30" width="13.90" height="3.40" rx="1.70" fill="#a8a8a8" filter="url(#b1)"/>
<rect x="95.20" y="390.00" width="13.00" height="2.00" rx="1.00" fill="#e0e0e0" filter="url(#b2)"/>
<rect x="95.20" y="395.50" width="13.00" height="3.00" rx="1.50" fill="#d0d0d0" filter="url(#b2)"/>
<rect x="116.00" y="390.00" width="13.80" height="2.00" rx="1.00" fill="#e4e4e4" filter="url(#b2)"/>
<rect x="116.00" y="394.10" width="13.80" height="3.40" rx="1.70" fill="#9a9a9a" filter="url(#b1)"/>
<rect x="136.30" y="393.30" width="13.30" height="2.80" rx="1.40" fill="#8a8a8a" filter="url(#b1)"/>
<rect x="156.00" y="392.00" width="14.40" height="4.40" rx="2.20" fill="#050505" filter="url(#b1)"/>
<rect x="177.30" y="393.60" width="13.90" height="2.80" rx="1.40" fill="#b8b8b8" filter="url(#b1)"/>
<rect x="198.10" y="392.10" width="13.30" height="3.40" rx="1.70" fill="#404040" filter="url(#b1)"/>
</g>
<rect x="49.5" y="381.2" width="164.70" height="22.50" fill="none" stroke="#1a1a1a" stroke-width="1.3" rx="0.8"/>
<line x1="132.50" y1="381.20" x2="132.50" y2="403.70" stroke="#111" stroke-width="1.5"/>
<clipPath id="c5"><rect x="49.5" y="407.2" width="164.70" height="22.50"/></clipPath>
<g clip-path="url(#c5)">
<linearGradient id="g5" x1="0" y1="0" x2="0" y2="1"><stop offset="0" stop-color="#a6a6a6"/><stop offset="0.8" stop-color="#adadad"/><stop offset="1" stop-color="#b8b8b8"/></linearGradient>
<rect x="49.50" y="407.20" width="164.70" height="22.50" fill="url(#g5)"/>
<rect x="53.20" y="418.85" width="16.50" height="6.30" rx="3.15" fill="#000" opacity="0.4" filter="url(#b2)"/>
<rect x="73.10" y="418.85" width="17.10" height="6.30" rx="3.15" fill="#000" opacity="0.4" filter="url(#b2)"/>
<rect x="93.80" y="418.55" width="16.60" height="6.30" rx="3.15" fill="#000" opacity="0.4" filter="url(#b2)"/>
<rect x="114.60" y="417.85" width="15.70" height="6.30" rx="3.15" fill="#000" opacity="0.4" filter="url(#b2)"/>
<rect x="134.10" y="414.45" width="16.60" height="6.30" rx="3.15" fill="#000" opacity="0.4" filter="url(#b2)"/>
<rect x="154.30" y="414.45" width="16.10" height="6.30" rx="3.15" fill="#000" opacity="0.4" filter="url(#b2)"/>
<rect x="174.60" y="414.45" width="16.60" height="6.30" rx="3.15" fill="#000" opacity="0.4" filter="url(#b2)"/>
<rect x="195.30" y="414.25" width="16.30" height="6.30" rx="3.15" fill="#000" opacity="0.4" filter="url(#b2)"/>
<rect x="53.70" y="420.05" width="15.50" height="3.90" rx="1.95" fill="#000" filter="url(#b3)"/>
<rect x="73.60" y="420.05" width="16.10" height="3.90" rx="1.95" fill="#000" filter="url(#b3)"/>
<rect x="94.30" y="419.75" width="15.60" height="3.90" rx="1.95" fill="#000" filter="url(#b3)"/>
<rect x="115.10" y="419.05" width="14.70" height="3.90" rx="1.95" fill="#000" filter="url(#b3)"/>
<rect x="134.60" y="415.65" width="15.60" height="3.90" rx="1.95" fill="#000" filter="url(#b3)"/>
<rect x="154.80" y="415.65" width="15.10" height="3.90" rx="1.95" fill="#000" filter="url(#b3)"/>
<rect x="175.10" y="415.65" width="15.60" height="3.90" rx="1.95" fill="#000" filter="url(#b3)"/>
<rect x="195.80" y="415.45" width="15.30" height="3.90" rx="1.95" fill="#000" filter="url(#b3)"/>
</g>
<rect x="49.5" y="407.2" width="164.70" height="22.50" fill="none" stroke="#1a1a1a" stroke-width="1.3" rx="0.8"/>
<line x1="132.50" y1="407.20" x2="132.50" y2="429.70" stroke="#111" stroke-width="1.5"/>
<clipPath id="c6"><rect x="49.5" y="433.1" width="164.70" height="22.40"/></clipPath>
<g clip-path="url(#c6)">
<rect x="49.50" y="433.10" width="164.70" height="22.40" fill="#f8f8f8"/>
<rect x="54.00" y="439.20" width="14.00" height="5.80" rx="2.90" fill="#e2e2e2" opacity="0.3" filter="url(#b2)"/>
<rect x="73.10" y="439.10" width="13.90" height="6.00" rx="3.00" fill="#cccccc" opacity="0.3" filter="url(#b2)"/>
<rect x="92.60" y="439.30" width="14.30" height="6.00" rx="3.00" fill="#c8c8c8" opacity="0.3" filter="url(#b2)"/>
<rect x="113.40" y="438.90" width="15.50" height="6.20" rx="3.10" fill="#555" opacity="0.3" filter="url(#b2)"/>
<rect x="134.80" y="440.50" width="15.30" height="6.00" rx="3.00" fill="#777" opacity="0.3" filter="url(#b2)"/>
<rect x="155.50" y="441.40" width="14.90" height="6.60" rx="3.30" fill="#1a1a1a" opacity="0.3" filter="url(#b2)"/>
<rect x="175.60" y="442.80" width="14.30" height="6.20" rx="3.10" fill="#666" opacity="0.3" filter="url(#b2)"/>
<rect x="195.90" y="443.10" width="14.80" height="6.60" rx="3.30" fill="#2a2a2a" opacity="0.3" filter="url(#b2)"/>
<rect x="54.50" y="440.70" width="13.00" height="2.80" rx="1.40" fill="#e2e2e2" filter="url(#b2)"/>
<rect x="73.60" y="440.60" width="12.90" height="3.00" rx="1.50" fill="#cccccc" filter="url(#b1)"/>
<rect x="93.10" y="440.80" width="13.30" height="3.00" rx="1.50" fill="#c8c8c8" filter="url(#b1)"/>
<rect x="113.90" y="440.40" width="14.50" height="3.20" rx="1.60" fill="#555" filter="url(#b1)"/>
<rect x="135.30" y="442.00" width="14.30" height="3.00" rx="1.50" fill="#777" filter="url(#b1)"/>
<rect x="156.00" y="442.90" width="13.90" height="3.60" rx="1.80" fill="#1a1a1a" filter="url(#b1)"/>
<rect x="176.10" y="444.30" width="13.30" height="3.20" rx="1.60" fill="#666" filter="url(#b1)"/>
<rect x="196.40" y="444.60" width="13.80" height="3.60" rx="1.80" fill="#2a2a2a" filter="url(#b1)"/>
</g>
<rect x="49.5" y="433.1" width="164.70" height="22.40" fill="none" stroke="#1a1a1a" stroke-width="1.3" rx="0.8"/>
<line x1="132.50" y1="433.10" x2="132.50" y2="455.50" stroke="#111" stroke-width="1.5"/>
<clipPath id="c7"><rect x="49.5" y="458.3" width="164.70" height="22.40"/></clipPath>
<g clip-path="url(#c7)">
<linearGradient id="g7" x1="0" y1="0" x2="0" y2="1"><stop offset="0" stop-color="#c6c6c6"/><stop offset="0.75" stop-color="#cccccc"/><stop offset="1" stop-color="#d6d6d6"/></linearGradient>
<rect x="49.50" y="458.30" width="164.70" height="22.40" fill="url(#g7)"/>
<rect x="52.80" y="467.00" width="16.90" height="6.40" rx="3.20" fill="#000" opacity="0.4" filter="url(#b2)"/>
<rect x="73.10" y="467.00" width="16.50" height="6.40" rx="3.20" fill="#000" opacity="0.4" filter="url(#b2)"/>
<rect x="92.60" y="467.10" width="16.60" height="6.20" rx="3.10" fill="#000" opacity="0.4" filter="url(#b2)"/>
<rect x="112.30" y="466.70" width="18.90" height="6.60" rx="3.30" fill="#000" opacity="0.4" filter="url(#b2)"/>
<rect x="133.60" y="467.40" width="18.80" height="6.60" rx="3.30" fill="#000" opacity="0.4" filter="url(#b2)"/>
<rect x="154.30" y="467.40" width="18.30" height="6.60" rx="3.30" fill="#000" opacity="0.4" filter="url(#b2)"/>
<rect x="174.60" y="467.70" width="17.10" height="6.40" rx="3.20" fill="#000" opacity="0.4" filter="url(#b2)"/>
<rect x="194.70" y="467.60" width="18.30" height="6.60" rx="3.30" fill="#000" opacity="0.4" filter="url(#b2)"/>
<rect x="53.30" y="468.20" width="15.90" height="4.00" rx="2.00" fill="#000" filter="url(#b3)"/>
<rect x="73.60" y="468.20" width="15.50" height="4.00" rx="2.00" fill="#000" filter="url(#b3)"/>
<rect x="93.10" y="468.30" width="15.60" height="3.80" rx="1.90" fill="#000" filter="url(#b3)"/>
<rect x="112.80" y="467.90" width="17.90" height="4.20" rx="2.10" fill="#000" filter="url(#b3)"/>
<rect x="134.10" y="468.60" width="17.80" height="4.20" rx="2.10" fill="#000" filter="url(#b3)"/>
<rect x="154.80" y="468.60" width="17.30" height="4.20" rx="2.10" fill="#000" filter="url(#b3)"/>
<rect x="175.10" y="468.90" width="16.10" height="4.00" rx="2.00" fill="#000" filter="url(#b3)"/>
<rect x="195.20" y="468.80" width="17.30" height="4.20" rx="2.10" fill="#000" filter="url(#b3)"/>
</g>
<rect x="49.5" y="458.3" width="164.70" height="22.40" fill="none" stroke="#1a1a1a" stroke-width="1.3" rx="0.8"/>
<line x1="132.50" y1="458.30" x2="132.50" y2="480.70" stroke="#111" stroke-width="1.5"/>
<line x1="305.90" y1="362.90" x2="305.90" y2="464.90" stroke="#444" stroke-width="0.8"/>
<line x1="305.90" y1="464.90" x2="386.00" y2="464.90" stroke="#444" stroke-width="0.8"/>
<line x1="304.10" y1="464.90" x2="305.90" y2="464.90" stroke="#444" stroke-width="0.7"/>
<text x="303.90" y="467.40" font-size="7.3" font-weight="bold" text-anchor="end" fill="#000">0</text>
<line x1="304.10" y1="431.07" x2="305.90" y2="431.07" stroke="#444" stroke-width="0.7"/>
<text x="303.90" y="433.57" font-size="7.3" font-weight="bold" text-anchor="end" fill="#000">5</text>
<line x1="304.10" y1="397.23" x2="305.90" y2="397.23" stroke="#444" stroke-width="0.7"/>
<text x="303.90" y="399.73" font-size="7.3" font-weight="bold" text-anchor="end" fill="#000">10</text>
<line x1="304.10" y1="363.40" x2="305.90" y2="363.40" stroke="#444" stroke-width="0.7"/>
<text x="303.90" y="365.90" font-size="7.3" font-weight="bold" text-anchor="end" fill="#000">15</text>
<rect x="296.30" y="342.90" width="6.00" height="5.40" fill="#000"/>
<rect x="296.30" y="349.90" width="6.00" height="5.40" fill="#b9b9b9"/>
<text x="304.70" y="348.40" font-size="7.4" font-weight="bold" text-anchor="start" fill="#111">WT</text>
<text x="304.70" y="355.50" font-size="7.4" font-weight="bold" text-anchor="start" fill="#111">CGD</text>
<rect x="307.80" y="458.80" width="5.70" height="6.10" fill="#000"/>
<rect x="315.90" y="459.70" width="5.70" height="5.20" fill="#bababa"/>
<rect x="328.60" y="452.30" width="6.00" height="12.60" fill="#000"/>
<line x1="331.60" y1="450.20" x2="331.60" y2="452.30" stroke="#222" stroke-width="0.8"/>
<line x1="330.10" y1="450.20" x2="333.10" y2="450.20" stroke="#222" stroke-width="0.8"/>
<rect x="336.30" y="425.60" width="6.60" height="39.30" fill="#bababa"/>
<line x1="339.60" y1="412.10" x2="339.60" y2="425.60" stroke="#222" stroke-width="0.8"/>
<line x1="338.10" y1="412.10" x2="341.10" y2="412.10" stroke="#222" stroke-width="0.8"/>
<rect x="349.30" y="458.30" width="5.70" height="6.60" fill="#000"/>
<rect x="357.10" y="450.50" width="6.10" height="14.40" fill="#bababa"/>
<line x1="360.15" y1="445.30" x2="360.15" y2="450.50" stroke="#222" stroke-width="0.8"/>
<line x1="358.65" y1="445.30" x2="361.65" y2="445.30" stroke="#222" stroke-width="0.8"/>
<rect x="370.10" y="455.70" width="6.10" height="9.20" fill="#000"/>
<line x1="373.15" y1="453.00" x2="373.15" y2="455.70" stroke="#222" stroke-width="0.8"/>
<line x1="371.65" y1="453.00" x2="374.65" y2="453.00" stroke="#222" stroke-width="0.8"/>
<rect x="377.90" y="453.10" width="6.00" height="11.80" fill="#bababa"/>
<line x1="380.90" y1="449.30" x2="380.90" y2="453.10" stroke="#222" stroke-width="0.8"/>
<line x1="379.40" y1="449.30" x2="382.40" y2="449.30" stroke="#222" stroke-width="0.8"/>
<circle cx="309.50" cy="460.70" r="0.9" fill="#fff"/>
<circle cx="311.50" cy="459.80" r="0.9" fill="#fff"/>
<circle cx="318.00" cy="456.50" r="1.1" fill="#000"/>
<circle cx="320.50" cy="457.50" r="1.1" fill="#000"/>
<circle cx="317.50" cy="461.00" r="1.1" fill="#000"/>
<circle cx="319.50" cy="459.50" r="1.1" fill="#000"/>
<circle cx="331.30" cy="447.00" r="1.0" fill="#fff" stroke="#666" stroke-width="0.5"/>
<circle cx="330.50" cy="451.50" r="1.0" fill="#fff" stroke="#666" stroke-width="0.5"/>
<circle cx="339.60" cy="389.80" r="1.1" fill="#000"/>
<circle cx="339.50" cy="421.50" r="1.1" fill="#000"/>
<circle cx="339.50" cy="440.00" r="1.1" fill="#000"/>
<circle cx="339.50" cy="450.50" r="1.1" fill="#000"/>
<circle cx="351.00" cy="457.20" r="1.0" fill="#fff" stroke="#666" stroke-width="0.5"/>
<circle cx="353.50" cy="456.30" r="1.0" fill="#fff" stroke="#666" stroke-width="0.5"/>
<circle cx="358.50" cy="440.80" r="1.1" fill="#000"/>
<circle cx="361.30" cy="443.20" r="1.1" fill="#000"/>
<circle cx="358.50" cy="458.50" r="1.1" fill="#000"/>
<circle cx="361.00" cy="458.50" r="1.1" fill="#000"/>
<circle cx="372.50" cy="453.30" r="1.0" fill="#fff" stroke="#666" stroke-width="0.5"/>
<circle cx="375.00" cy="452.00" r="1.0" fill="#fff" stroke="#666" stroke-width="0.5"/>
<circle cx="373.00" cy="462.00" r="0.9" fill="#fff"/>
<circle cx="379.50" cy="446.00" r="1.1" fill="#000"/>
<circle cx="382.00" cy="448.50" r="1.1" fill="#000"/>
<circle cx="380.00" cy="459.50" r="1.1" fill="#000"/>
<circle cx="382.50" cy="458.00" r="1.1" fill="#000"/>
<line x1="318.40" y1="384.30" x2="338.30" y2="384.30" stroke="#333" stroke-width="1.0"/>
<line x1="318.40" y1="382.90" x2="318.40" y2="385.70" stroke="#333" stroke-width="0.8"/>
<line x1="338.30" y1="382.90" x2="338.30" y2="385.70" stroke="#333" stroke-width="0.8"/>
<text x="328.35" y="386.90" font-size="10" font-weight="bold" text-anchor="middle" fill="#222">**</text>
<line x1="339.00" y1="377.80" x2="360.70" y2="377.80" stroke="#333" stroke-width="1.0"/>
<line x1="339.00" y1="376.40" x2="339.00" y2="379.20" stroke="#333" stroke-width="0.8"/>
<line x1="360.70" y1="376.40" x2="360.70" y2="379.20" stroke="#333" stroke-width="0.8"/>
<text x="349.85" y="380.40" font-size="10" font-weight="bold" text-anchor="middle" fill="#222">*</text>
<line x1="339.00" y1="371.80" x2="380.90" y2="371.80" stroke="#333" stroke-width="1.0"/>
<line x1="339.00" y1="370.40" x2="339.00" y2="373.20" stroke="#333" stroke-width="0.8"/>
<line x1="380.90" y1="370.40" x2="380.90" y2="373.20" stroke="#333" stroke-width="0.8"/>
<text x="359.95" y="374.40" font-size="10" font-weight="bold" text-anchor="middle" fill="#222">*</text>
<text x="308.30" y="479.50" font-size="7.6" font-weight="bold" text-anchor="start" fill="#222">CTL</text>
<text x="334.70" y="479.50" font-size="7.6" font-weight="bold" text-anchor="middle" fill="#222">-</text>
<text x="343.10" y="479.50" font-size="7.6" font-weight="bold" text-anchor="start" fill="#222">α-CD18</text>
<text x="372.50" y="479.5" font-size="7.6" font-weight="bold" fill="#222">H<tspan font-size="5.3" dy="1.4">2</tspan><tspan dy="-1.4">O</tspan><tspan font-size="5.3" dy="1.4">2</tspan></text>
<line x1="329.50" y1="484.00" x2="391.00" y2="484.00" stroke="#111" stroke-width="1.4"/>
<text x="329.90" y="495.00" font-size="7.6" font-weight="bold" text-anchor="start" fill="#222">+Zym</text>
<text transform="translate(278.5,412.0) rotate(-90)" font-size="7.3" font-weight="bold" text-anchor="middle" fill="#222">P-SHP2 (Tyr542)</text>
<text transform="translate(287.3,412.0) rotate(-90)" font-size="7.3" font-weight="bold" text-anchor="middle" fill="#222">(a.u)</text>
<line x1="427.00" y1="361.40" x2="427.00" y2="464.90" stroke="#444" stroke-width="0.8"/>
<line x1="427.00" y1="464.90" x2="508.20" y2="464.90" stroke="#444" stroke-width="0.8"/>
<line x1="425.20" y1="464.90" x2="427.00" y2="464.90" stroke="#444" stroke-width="0.7"/>
<text x="425.00" y="467.40" font-size="7.3" font-weight="bold" text-anchor="end" fill="#000">0</text>
<line x1="425.20" y1="430.57" x2="427.00" y2="430.57" stroke="#444" stroke-width="0.7"/>
<text x="425.00" y="433.07" font-size="7.3" font-weight="bold" text-anchor="end" fill="#000">5</text>
<line x1="425.20" y1="396.23" x2="427.00" y2="396.23" stroke="#444" stroke-width="0.7"/>
<text x="425.00" y="398.73" font-size="7.3" font-weight="bold" text-anchor="end" fill="#000">10</text>
<line x1="425.20" y1="361.90" x2="427.00" y2="361.90" stroke="#444" stroke-width="0.7"/>
<text x="425.00" y="364.40" font-size="7.3" font-weight="bold" text-anchor="end" fill="#000">15</text>
<rect x="417.80" y="342.90" width="6.00" height="5.40" fill="#000"/>
<rect x="417.80" y="349.90" width="6.00" height="5.40" fill="#b9b9b9"/>
<text x="426.20" y="348.40" font-size="7.4" font-weight="bold" text-anchor="start" fill="#111">WT</text>
<text x="426.20" y="355.50" font-size="7.4" font-weight="bold" text-anchor="start" fill="#111">CGD</text>
<rect x="429.80" y="459.70" width="5.70" height="5.20" fill="#000"/>
<rect x="437.60" y="457.10" width="5.50" height="7.80" fill="#bababa"/>
<rect x="450.20" y="455.70" width="6.10" height="9.20" fill="#000"/>
<line x1="453.25" y1="453.30" x2="453.25" y2="455.70" stroke="#222" stroke-width="0.8"/>
<line x1="451.75" y1="453.30" x2="454.75" y2="453.30" stroke="#222" stroke-width="0.8"/>
<rect x="458.30" y="426.80" width="6.10" height="38.10" fill="#bababa"/>
<line x1="461.35" y1="417.30" x2="461.35" y2="426.80" stroke="#222" stroke-width="0.8"/>
<line x1="459.85" y1="417.30" x2="462.85" y2="417.30" stroke="#222" stroke-width="0.8"/>
<rect x="471.30" y="457.10" width="6.10" height="7.80" fill="#000"/>
<rect x="479.10" y="450.20" width="6.10" height="14.70" fill="#bababa"/>
<line x1="482.15" y1="444.10" x2="482.15" y2="450.20" stroke="#222" stroke-width="0.8"/>
<line x1="480.65" y1="444.10" x2="483.65" y2="444.10" stroke="#222" stroke-width="0.8"/>
<rect x="492.10" y="455.00" width="6.10" height="9.90" fill="#000"/>
<rect x="500.20" y="451.10" width="6.10" height="13.80" fill="#bababa"/>
<line x1="503.25" y1="447.10" x2="503.25" y2="451.10" stroke="#222" stroke-width="0.8"/>
<line x1="501.75" y1="447.10" x2="504.75" y2="447.10" stroke="#222" stroke-width="0.8"/>
<circle cx="432.50" cy="461.50" r="0.9" fill="#fff"/>
<circle cx="431.00" cy="459.50" r="0.9" fill="#fff"/>
<circle cx="434.00" cy="459.50" r="0.9" fill="#fff"/>
<circle cx="440.50" cy="452.50" r="1.1" fill="#000"/>
<circle cx="439.00" cy="459.50" r="1.1" fill="#000"/>
<circle cx="441.50" cy="459.50" r="1.1" fill="#000"/>
<circle cx="452.00" cy="450.50" r="1.0" fill="#fff" stroke="#666" stroke-width="0.5"/>
<circle cx="454.50" cy="452.50" r="1.0" fill="#fff" stroke="#666" stroke-width="0.5"/>
<circle cx="453.20" cy="458.50" r="0.9" fill="#fff"/>
<circle cx="453.20" cy="461.50" r="0.9" fill="#fff"/>
<circle cx="461.30" cy="405.50" r="1.1" fill="#000"/>
<circle cx="460.00" cy="424.00" r="1.1" fill="#000"/>
<circle cx="462.50" cy="427.00" r="1.1" fill="#000"/>
<circle cx="461.30" cy="450.50" r="1.1" fill="#000"/>
<circle cx="473.50" cy="451.50" r="1.0" fill="#fff" stroke="#666" stroke-width="0.5"/>
<circle cx="476.00" cy="454.00" r="1.0" fill="#fff" stroke="#666" stroke-width="0.5"/>
<circle cx="474.00" cy="460.50" r="0.9" fill="#fff"/>
<circle cx="475.50" cy="458.00" r="0.9" fill="#fff"/>
<circle cx="481.50" cy="435.50" r="1.1" fill="#000"/>
<circle cx="482.00" cy="446.00" r="1.1" fill="#000"/>
<circle cx="480.00" cy="460.00" r="1.1" fill="#000"/>
<circle cx="483.50" cy="457.50" r="1.1" fill="#000"/>
<circle cx="495.00" cy="447.50" r="1.0" fill="#fff" stroke="#666" stroke-width="0.5"/>
<circle cx="494.50" cy="451.00" r="1.0" fill="#fff" stroke="#666" stroke-width="0.5"/>
<circle cx="495.00" cy="457.50" r="0.9" fill="#fff"/>
<circle cx="495.00" cy="462.00" r="0.9" fill="#fff"/>
<circle cx="503.00" cy="442.30" r="1.1" fill="#000"/>
<circle cx="502.50" cy="452.50" r="1.1" fill="#000"/>
<circle cx="503.50" cy="459.00" r="1.1" fill="#000"/>
<circle cx="504.00" cy="449.00" r="1.1" fill="#000"/>
<line x1="440.20" y1="398.70" x2="461.10" y2="398.70" stroke="#333" stroke-width="1.0"/>
<line x1="440.20" y1="397.30" x2="440.20" y2="400.10" stroke="#333" stroke-width="0.8"/>
<line x1="461.10" y1="397.30" x2="461.10" y2="400.10" stroke="#333" stroke-width="0.8"/>
<text x="450.65" y="401.30" font-size="10" font-weight="bold" text-anchor="middle" fill="#222">*</text>
<line x1="461.10" y1="392.20" x2="482.30" y2="392.20" stroke="#333" stroke-width="1.0"/>
<line x1="461.10" y1="390.80" x2="461.10" y2="393.60" stroke="#333" stroke-width="0.8"/>
<line x1="482.30" y1="390.80" x2="482.30" y2="393.60" stroke="#333" stroke-width="0.8"/>
<text x="471.70" y="394.80" font-size="10" font-weight="bold" text-anchor="middle" fill="#222">*</text>
<line x1="461.10" y1="386.00" x2="502.70" y2="386.00" stroke="#333" stroke-width="1.0"/>
<line x1="461.10" y1="384.60" x2="461.10" y2="387.40" stroke="#333" stroke-width="0.8"/>
<line x1="502.70" y1="384.60" x2="502.70" y2="387.40" stroke="#333" stroke-width="0.8"/>
<text x="481.90" y="388.60" font-size="10" font-weight="bold" text-anchor="middle" fill="#222">*</text>
<text x="427.90" y="479.50" font-size="7.6" font-weight="bold" text-anchor="start" fill="#222">CTL</text>
<text x="456.30" y="479.50" font-size="7.6" font-weight="bold" text-anchor="middle" fill="#222">-</text>
<text x="464.70" y="479.50" font-size="7.6" font-weight="bold" text-anchor="start" fill="#222">α-CD18</text>
<text x="493.60" y="479.5" font-size="7.6" font-weight="bold" fill="#222">H<tspan font-size="5.3" dy="1.4">2</tspan><tspan dy="-1.4">O</tspan><tspan font-size="5.3" dy="1.4">2</tspan></text>
<line x1="448.40" y1="484.00" x2="511.60" y2="484.00" stroke="#111" stroke-width="1.4"/>
<text x="451.00" y="495.00" font-size="7.6" font-weight="bold" text-anchor="start" fill="#222">+Zym</text>
<text transform="translate(400.0,412.5) rotate(-90)" font-size="7.3" font-weight="bold" text-anchor="middle" fill="#222">P-Syk (Tyr352)</text>
<text transform="translate(408.8,412.5) rotate(-90)" font-size="7.3" font-weight="bold" text-anchor="middle" fill="#222">(a.u)</text>
<text x="8.40" y="542.80" font-size="14" font-weight="normal" text-anchor="start" fill="#111">E</text>
<text x="90.40" y="540.60" font-size="12.0" font-weight="bold" text-anchor="middle" fill="#111">WT</text>
<text x="172.80" y="541.20" font-size="11.2" font-weight="bold" text-anchor="middle" fill="#111">CGD</text>
<text x="221.40" y="544.60" font-size="6.6" font-weight="bold" text-anchor="start" fill="#000">kDa</text>
<text x="224.00" y="562.90" font-size="6.8" font-weight="bold" text-anchor="start" fill="#000">72</text>
<text x="224.00" y="586.80" font-size="6.8" font-weight="bold" text-anchor="start" fill="#000">72</text>
<text x="224.00" y="614.80" font-size="6.8" font-weight="bold" text-anchor="start" fill="#000">65</text>
<text x="224.00" y="634.80" font-size="6.8" font-weight="bold" text-anchor="start" fill="#000">17</text>
<text x="33.50" y="560.20" font-size="7.4" font-weight="bold" text-anchor="middle" fill="#000">P-SYK</text>
<text x="33.30" y="584.70" font-size="7.4" font-weight="bold" text-anchor="middle" fill="#000">T-SYK</text>
<text x="32.00" y="611.50" font-size="7.4" font-weight="bold" text-anchor="middle" fill="#000">P-p65</text>
<text x="31.60" y="634.70" font-size="7.4" font-weight="bold" text-anchor="middle" fill="#000">H3</text>
<clipPath id="c8"><rect x="48.3" y="546.2" width="163.20" height="22.30"/></clipPath>
<g clip-path="url(#c8)">
<rect x="48.30" y="546.20" width="163.20" height="22.30" fill="#efefef"/>
<rect x="68.00" y="543.20" width="14.00" height="28.30" fill="#e2e2e2" opacity="1" filter="url(#b4)"/>
<rect x="83.00" y="543.20" width="13.00" height="28.30" fill="#e6e6e6" opacity="1" filter="url(#b4)"/>
<rect x="114.00" y="543.20" width="13.00" height="28.30" fill="#e4e4e4" opacity="1" filter="url(#b4)"/>
<rect x="147.00" y="543.20" width="16.00" height="28.30" fill="#dcdcdc" opacity="1" filter="url(#b4)"/>
<rect x="164.00" y="543.20" width="14.00" height="28.30" fill="#e2e2e2" opacity="1" filter="url(#b4)"/>
<rect x="196.00" y="543.20" width="14.00" height="28.30" fill="#e2e2e2" opacity="1" filter="url(#b4)"/>
<rect x="69.50" y="551.70" width="11.30" height="11.00" rx="5.50" fill="#5a5a5a" opacity="0.35" filter="url(#b2)"/>
<rect x="83.80" y="552.10" width="11.90" height="10.60" rx="5.30" fill="#8e8e8e" opacity="0.35" filter="url(#b2)"/>
<rect x="100.20" y="553.30" width="10.20" height="9.40" rx="4.70" fill="#d0d0d0" opacity="0.35" filter="url(#b2)"/>
<rect x="114.80" y="552.30" width="12.20" height="11.00" rx="5.50" fill="#6a6a6a" opacity="0.35" filter="url(#b2)"/>
<rect x="132.70" y="555.80" width="11.50" height="9.00" rx="4.50" fill="#d8d8d8" opacity="0.35" filter="url(#b2)"/>
<rect x="148.60" y="554.10" width="12.90" height="12.40" rx="6.20" fill="#030303" opacity="0.35" filter="url(#b2)"/>
<rect x="164.70" y="555.10" width="12.30" height="10.40" rx="5.20" fill="#6a6a6a" opacity="0.35" filter="url(#b2)"/>
<rect x="180.80" y="555.80" width="11.80" height="9.40" rx="4.70" fill="#b8b8b8" opacity="0.35" filter="url(#b2)"/>
<rect x="196.70" y="555.30" width="12.40" height="10.40" rx="5.20" fill="#555" opacity="0.35" filter="url(#b2)"/>
<rect x="70.50" y="554.70" width="9.30" height="5.00" rx="2.50" fill="#5a5a5a" filter="url(#b2)"/>
<rect x="84.80" y="555.10" width="9.90" height="4.60" rx="2.30" fill="#8e8e8e" filter="url(#b2)"/>
<rect x="101.20" y="556.30" width="8.20" height="3.40" rx="1.70" fill="#d0d0d0" filter="url(#b2)"/>
<rect x="115.80" y="555.30" width="10.20" height="5.00" rx="2.50" fill="#6a6a6a" filter="url(#b2)"/>
<rect x="133.70" y="558.80" width="9.50" height="3.00" rx="1.50" fill="#d8d8d8" filter="url(#b2)"/>
<rect x="149.60" y="557.10" width="10.90" height="6.40" rx="3.20" fill="#030303" filter="url(#b1)"/>
<rect x="165.70" y="558.10" width="10.30" height="4.40" rx="2.20" fill="#6a6a6a" filter="url(#b1)"/>
<rect x="181.80" y="558.80" width="9.80" height="3.40" rx="1.70" fill="#b8b8b8" filter="url(#b2)"/>
<rect x="197.70" y="558.30" width="10.40" height="4.40" rx="2.20" fill="#555" filter="url(#b1)"/>
</g>
<rect x="48.3" y="546.2" width="163.20" height="22.30" fill="none" stroke="#1a1a1a" stroke-width="1.3" rx="0.8"/>
<line x1="129.80" y1="546.20" x2="129.80" y2="568.50" stroke="#111" stroke-width="1.5"/>
<clipPath id="c9"><rect x="48.3" y="571.2" width="163.20" height="22.10"/></clipPath>
<g clip-path="url(#c9)">
<linearGradient id="g9" x1="0" y1="0" x2="0" y2="1"><stop offset="0" stop-color="#dedede"/><stop offset="1" stop-color="#d0d0d0"/></linearGradient>
<rect x="48.30" y="571.20" width="163.20" height="22.10" fill="url(#g9)"/>
<rect x="51.10" y="580.80" width="12.60" height="6.80" rx="3.40" fill="#000" opacity="0.4" filter="url(#b2)"/>
<rect x="67.90" y="580.80" width="11.70" height="6.80" rx="3.40" fill="#000" opacity="0.4" filter="url(#b2)"/>
<rect x="83.40" y="580.90" width="12.30" height="6.60" rx="3.30" fill="#000" opacity="0.4" filter="url(#b2)"/>
<rect x="99.50" y="581.00" width="11.40" height="6.40" rx="3.20" fill="#000" opacity="0.4" filter="url(#b2)"/>
<rect x="114.60" y="580.20" width="12.60" height="8.00" rx="4.00" fill="#000" opacity="0.4" filter="url(#b2)"/>
<rect x="133.50" y="581.30" width="12.40" height="6.40" rx="3.20" fill="#000" opacity="0.4" filter="url(#b2)"/>
<rect x="149.60" y="581.30" width="12.20" height="6.40" rx="3.20" fill="#000" opacity="0.4" filter="url(#b2)"/>
<rect x="165.20" y="581.30" width="12.20" height="6.40" rx="3.20" fill="#000" opacity="0.4" filter="url(#b2)"/>
<rect x="181.30" y="581.30" width="12.00" height="6.40" rx="3.20" fill="#000" opacity="0.4" filter="url(#b2)"/>
<rect x="196.80" y="580.50" width="12.60" height="8.00" rx="4.00" fill="#000" opacity="0.4" filter="url(#b2)"/>
<rect x="51.60" y="582.00" width="11.60" height="4.40" rx="2.20" fill="#000" filter="url(#b3)"/>
<rect x="68.40" y="582.00" width="10.70" height="4.40" rx="2.20" fill="#000" filter="url(#b3)"/>
<rect x="83.90" y="582.10" width="11.30" height="4.20" rx="2.10" fill="#000" filter="url(#b3)"/>
<rect x="100.00" y="582.20" width="10.40" height="4.00" rx="2.00" fill="#000" filter="url(#b3)"/>
<rect x="115.10" y="581.40" width="11.60" height="5.60" rx="2.80" fill="#000" filter="url(#b3)"/>
<rect x="134.00" y="582.50" width="11.40" height="4.00" rx="2.00" fill="#000" filter="url(#b3)"/>
<rect x="150.10" y="582.50" width="11.20" height="4.00" rx="2.00" fill="#000" filter="url(#b3)"/>
<rect x="165.70" y="582.50" width="11.20" height="4.00" rx="2.00" fill="#000" filter="url(#b3)"/>
<rect x="181.80" y="582.50" width="11.00" height="4.00" rx="2.00" fill="#000" filter="url(#b3)"/>
<rect x="197.30" y="581.70" width="11.60" height="5.60" rx="2.80" fill="#000" filter="url(#b3)"/>
</g>
<rect x="48.3" y="571.2" width="163.20" height="22.10" fill="none" stroke="#1a1a1a" stroke-width="1.3" rx="0.8"/>
<line x1="129.80" y1="571.20" x2="129.80" y2="593.30" stroke="#111" stroke-width="1.5"/>
<path d="M60,593 Q65,589.5 71,586" stroke="#777" stroke-width="1.0" fill="none" filter="url(#b3)"/>
<clipPath id="c10"><rect x="48.3" y="596.2" width="163.20" height="22.30"/></clipPath>
<g clip-path="url(#c10)">
<rect x="48.30" y="596.20" width="163.20" height="22.30" fill="#f0f0f0"/>
<rect x="64.00" y="593.20" width="14.00" height="28.30" fill="#e4e4e4" opacity="1" filter="url(#b4)"/>
<rect x="80.00" y="593.20" width="13.00" height="28.30" fill="#e4e4e4" opacity="1" filter="url(#b4)"/>
<rect x="146.00" y="593.20" width="14.00" height="28.30" fill="#e0e0e0" opacity="1" filter="url(#b4)"/>
<rect x="194.00" y="593.20" width="14.00" height="28.30" fill="#e0e0e0" opacity="1" filter="url(#b4)"/>
<rect x="65.10" y="608.20" width="12.10" height="9.40" rx="4.70" fill="#707070" opacity="0.35" filter="url(#b2)"/>
<rect x="80.70" y="608.20" width="12.00" height="9.40" rx="4.70" fill="#7a7a7a" opacity="0.35" filter="url(#b2)"/>
<rect x="96.30" y="608.40" width="11.70" height="9.00" rx="4.50" fill="#a8a8a8" opacity="0.35" filter="url(#b2)"/>
<rect x="112.90" y="608.40" width="11.00" height="9.00" rx="4.50" fill="#bbbbbb" opacity="0.35" filter="url(#b2)"/>
<rect x="133.50" y="607.70" width="9.80" height="8.60" rx="4.30" fill="#dcdcdc" opacity="0.35" filter="url(#b2)"/>
<rect x="147.40" y="606.80" width="11.50" height="10.40" rx="5.20" fill="#111" opacity="0.35" filter="url(#b2)"/>
<rect x="162.90" y="607.50" width="13.30" height="9.00" rx="4.50" fill="#c8c8c8" opacity="0.35" filter="url(#b2)"/>
<rect x="179.00" y="607.20" width="12.40" height="9.60" rx="4.80" fill="#666" opacity="0.35" filter="url(#b2)"/>
<rect x="195.30" y="606.80" width="12.00" height="10.40" rx="5.20" fill="#2a2a2a" opacity="0.35" filter="url(#b2)"/>
<rect x="66.10" y="611.20" width="10.10" height="3.40" rx="1.70" fill="#707070" filter="url(#b1)"/>
<rect x="81.70" y="611.20" width="10.00" height="3.40" rx="1.70" fill="#7a7a7a" filter="url(#b1)"/>
<rect x="97.30" y="611.40" width="9.70" height="3.00" rx="1.50" fill="#a8a8a8" filter="url(#b1)"/>
<rect x="113.90" y="611.40" width="9.00" height="3.00" rx="1.50" fill="#bbbbbb" filter="url(#b1)"/>
<rect x="134.50" y="610.70" width="7.80" height="2.60" rx="1.30" fill="#dcdcdc" filter="url(#b2)"/>
<rect x="148.40" y="609.80" width="9.50" height="4.40" rx="2.20" fill="#111" filter="url(#b1)"/>
<rect x="163.90" y="610.50" width="11.30" height="3.00" rx="1.50" fill="#c8c8c8" filter="url(#b2)"/>
<rect x="180.00" y="610.20" width="10.40" height="3.60" rx="1.80" fill="#666" filter="url(#b1)"/>
<rect x="196.30" y="609.80" width="10.00" height="4.40" rx="2.20" fill="#2a2a2a" filter="url(#b1)"/>
</g>
<rect x="48.3" y="596.2" width="163.20" height="22.30" fill="none" stroke="#1a1a1a" stroke-width="1.3" rx="0.8"/>
<line x1="129.80" y1="596.20" x2="129.80" y2="618.50" stroke="#111" stroke-width="1.5"/>
<clipPath id="c11"><rect x="48.3" y="620.8" width="163.20" height="22.20"/></clipPath>
<g clip-path="url(#c11)">
<linearGradient id="g11" x1="0" y1="0" x2="0" y2="1"><stop offset="0" stop-color="#eaeaea"/><stop offset="0.5" stop-color="#e2e2e2"/><stop offset="1" stop-color="#d8d8d8"/></linearGradient>
<rect x="48.30" y="620.80" width="163.20" height="22.20" fill="url(#g11)"/>
<rect x="51.10" y="627.80" width="13.80" height="4.80" rx="2.40" fill="#000" opacity="0.4" filter="url(#b2)"/>
<rect x="66.10" y="627.20" width="15.40" height="6.20" rx="3.10" fill="#000" opacity="0.4" filter="url(#b2)"/>
<rect x="82.20" y="627.60" width="14.40" height="5.40" rx="2.70" fill="#000" opacity="0.4" filter="url(#b2)"/>
<rect x="97.30" y="627.40" width="15.40" height="5.80" rx="2.90" fill="#000" opacity="0.4" filter="url(#b2)"/>
<rect x="112.90" y="627.20" width="15.30" height="6.20" rx="3.10" fill="#000" opacity="0.4" filter="url(#b2)"/>
<rect x="131.80" y="628.10" width="14.10" height="5.20" rx="2.60" fill="#000" opacity="0.4" filter="url(#b2)"/>
<rect x="146.70" y="627.90" width="15.50" height="5.60" rx="2.80" fill="#000" opacity="0.4" filter="url(#b2)"/>
<rect x="162.90" y="628.10" width="15.40" height="5.20" rx="2.60" fill="#000" opacity="0.4" filter="url(#b2)"/>
<rect x="179.00" y="627.90" width="15.70" height="5.60" rx="2.80" fill="#000" opacity="0.4" filter="url(#b2)"/>
<rect x="195.10" y="627.90" width="15.50" height="5.60" rx="2.80" fill="#000" opacity="0.4" filter="url(#b2)"/>
<rect x="51.60" y="629.00" width="12.80" height="2.40" rx="1.20" fill="#000" filter="url(#b3)"/>
<rect x="66.60" y="628.40" width="14.40" height="3.80" rx="1.90" fill="#000" filter="url(#b3)"/>
<rect x="82.70" y="628.80" width="13.40" height="3.00" rx="1.50" fill="#000" filter="url(#b3)"/>
<rect x="97.80" y="628.60" width="14.40" height="3.40" rx="1.70" fill="#000" filter="url(#b3)"/>
<rect x="113.40" y="628.40" width="14.30" height="3.80" rx="1.90" fill="#000" filter="url(#b3)"/>
<rect x="132.30" y="629.30" width="13.10" height="2.80" rx="1.40" fill="#000" filter="url(#b3)"/>
<rect x="147.20" y="629.10" width="14.50" height="3.20" rx="1.60" fill="#000" filter="url(#b3)"/>
<rect x="163.40" y="629.30" width="14.40" height="2.80" rx="1.40" fill="#000" filter="url(#b3)"/>
<rect x="179.50" y="629.10" width="14.70" height="3.20" rx="1.60" fill="#000" filter="url(#b3)"/>
<rect x="195.60" y="629.10" width="14.50" height="3.20" rx="1.60" fill="#000" filter="url(#b3)"/>
</g>
<rect x="48.3" y="620.8" width="163.20" height="22.20" fill="none" stroke="#1a1a1a" stroke-width="1.3" rx="0.8"/>
<line x1="129.80" y1="620.80" x2="129.80" y2="643.00" stroke="#111" stroke-width="1.5"/>
<text transform="translate(60.20,650) rotate(-90)" font-size="6.3" font-weight="bold" text-anchor="end" fill="#222">CTL</text>
<text transform="translate(74.70,650) rotate(-90)" font-size="6.3" font-weight="bold" text-anchor="end" fill="#222">+ Isotype</text>
<text transform="translate(91.70,650) rotate(-90)" font-size="6.3" font-weight="bold" text-anchor="end" fill="#222">+ α-CD18</text>
<text transform="translate(106.70,650) rotate(-90)" font-size="6.3" font-weight="bold" text-anchor="end" fill="#222">+ α-Dectin-1</text>
<text transform="translate(121.70,650) rotate(-90)" font-size="6.3" font-weight="bold" text-anchor="end" fill="#222">+ α-TLR2</text>
<text transform="translate(143.45,650) rotate(-90)" font-size="6.3" font-weight="bold" text-anchor="end" fill="#222">CTL</text>
<text transform="translate(158.45,650) rotate(-90)" font-size="6.3" font-weight="bold" text-anchor="end" fill="#222">+ Isotype</text>
<text transform="translate(174.70,650) rotate(-90)" font-size="6.3" font-weight="bold" text-anchor="end" fill="#222">+ α-CD18</text>
<text transform="translate(189.20,650) rotate(-90)" font-size="6.3" font-weight="bold" text-anchor="end" fill="#222">+ α-Dectin-1</text>
<text transform="translate(206.70,650) rotate(-90)" font-size="6.3" font-weight="bold" text-anchor="end" fill="#222">+ α-TLR2</text>
<line x1="66.25" y1="694.50" x2="125.00" y2="694.50" stroke="#111" stroke-width="1.2"/>
<line x1="150.00" y1="694.50" x2="209.50" y2="694.50" stroke="#111" stroke-width="1.2"/>
<text x="68.00" y="703.80" font-size="7.4" font-weight="bold" text-anchor="start" fill="#222">+Zym</text>
<text x="152.50" y="703.80" font-size="7.4" font-weight="bold" text-anchor="start" fill="#222">+Zym</text>
</svg></body></html>
